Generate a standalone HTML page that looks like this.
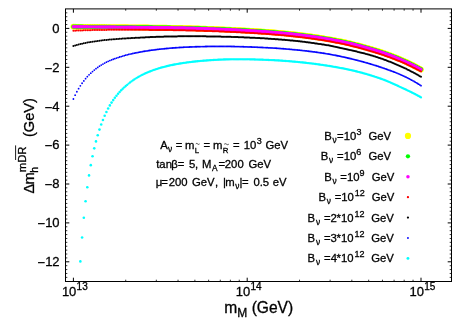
<!DOCTYPE html>
<html><head><meta charset="utf-8"><title>plot</title>
<style>html,body{margin:0;padding:0;background:#fff;}body{width:467px;height:327px;overflow:hidden;position:relative;font-family:"Liberation Sans",sans-serif;}</style></head>
<body>
<svg width="467" height="327" viewBox="0 0 467 327" style="display:block;position:absolute;left:0;top:0;will-change:transform">
<rect x="0" y="0" width="467" height="327" fill="#ffffff"/>
<g fill="#ffff00">
<circle cx="73.40" cy="26.70" r="2.85"/><circle cx="75.14" cy="26.72" r="2.85"/><circle cx="76.88" cy="26.73" r="2.85"/><circle cx="78.61" cy="26.74" r="2.85"/><circle cx="80.35" cy="26.76" r="2.85"/><circle cx="82.09" cy="26.77" r="2.85"/><circle cx="83.83" cy="26.78" r="2.85"/><circle cx="85.57" cy="26.80" r="2.85"/><circle cx="87.30" cy="26.81" r="2.85"/><circle cx="89.04" cy="26.83" r="2.85"/><circle cx="90.78" cy="26.84" r="2.85"/><circle cx="92.52" cy="26.85" r="2.85"/><circle cx="94.26" cy="26.87" r="2.85"/><circle cx="95.99" cy="26.89" r="2.85"/><circle cx="97.73" cy="26.90" r="2.85"/><circle cx="99.47" cy="26.92" r="2.85"/><circle cx="101.21" cy="26.93" r="2.85"/><circle cx="102.95" cy="26.95" r="2.85"/><circle cx="104.68" cy="26.97" r="2.85"/><circle cx="106.42" cy="26.98" r="2.85"/><circle cx="108.15" cy="27.00" r="2.85"/><circle cx="109.86" cy="27.02" r="2.85"/><circle cx="111.55" cy="27.04" r="2.85"/><circle cx="113.21" cy="27.05" r="2.85"/><circle cx="114.85" cy="27.07" r="2.85"/><circle cx="116.47" cy="27.09" r="2.85"/><circle cx="118.06" cy="27.11" r="2.85"/><circle cx="119.64" cy="27.12" r="2.85"/><circle cx="121.19" cy="27.14" r="2.85"/><circle cx="122.73" cy="27.16" r="2.85"/><circle cx="124.24" cy="27.18" r="2.85"/><circle cx="125.73" cy="27.20" r="2.85"/><circle cx="127.20" cy="27.21" r="2.85"/><circle cx="128.65" cy="27.23" r="2.85"/><circle cx="130.08" cy="27.25" r="2.85"/><circle cx="131.50" cy="27.27" r="2.85"/><circle cx="132.89" cy="27.28" r="2.85"/><circle cx="134.26" cy="27.30" r="2.85"/><circle cx="135.62" cy="27.32" r="2.85"/><circle cx="136.96" cy="27.33" r="2.85"/><circle cx="138.28" cy="27.35" r="2.85"/><circle cx="139.58" cy="27.36" r="2.85"/><circle cx="140.86" cy="27.38" r="2.85"/><circle cx="142.13" cy="27.40" r="2.85"/><circle cx="143.38" cy="27.41" r="2.85"/><circle cx="144.62" cy="27.43" r="2.85"/><circle cx="145.83" cy="27.44" r="2.85"/><circle cx="147.03" cy="27.45" r="2.85"/><circle cx="148.22" cy="27.47" r="2.85"/><circle cx="149.38" cy="27.48" r="2.85"/><circle cx="150.54" cy="27.50" r="2.85"/><circle cx="151.68" cy="27.51" r="2.85"/><circle cx="152.83" cy="27.53" r="2.85"/><circle cx="153.97" cy="27.54" r="2.85"/><circle cx="155.12" cy="27.55" r="2.85"/><circle cx="156.27" cy="27.57" r="2.85"/><circle cx="157.41" cy="27.58" r="2.85"/><circle cx="158.56" cy="27.60" r="2.85"/><circle cx="159.70" cy="27.62" r="2.85"/><circle cx="160.85" cy="27.63" r="2.85"/><circle cx="162.00" cy="27.65" r="2.85"/><circle cx="163.14" cy="27.66" r="2.85"/><circle cx="164.29" cy="27.68" r="2.85"/><circle cx="165.43" cy="27.70" r="2.85"/><circle cx="166.58" cy="27.72" r="2.85"/><circle cx="167.73" cy="27.73" r="2.85"/><circle cx="168.87" cy="27.75" r="2.85"/><circle cx="170.02" cy="27.77" r="2.85"/><circle cx="171.17" cy="27.79" r="2.85"/><circle cx="172.31" cy="27.81" r="2.85"/><circle cx="173.46" cy="27.83" r="2.85"/><circle cx="174.60" cy="27.85" r="2.85"/><circle cx="175.75" cy="27.87" r="2.85"/><circle cx="176.90" cy="27.89" r="2.85"/><circle cx="178.04" cy="27.92" r="2.85"/><circle cx="179.19" cy="27.94" r="2.85"/><circle cx="180.33" cy="27.97" r="2.85"/><circle cx="181.48" cy="27.99" r="2.85"/><circle cx="182.63" cy="28.02" r="2.85"/><circle cx="183.77" cy="28.04" r="2.85"/><circle cx="184.92" cy="28.07" r="2.85"/><circle cx="186.06" cy="28.10" r="2.85"/><circle cx="187.21" cy="28.13" r="2.85"/><circle cx="188.36" cy="28.16" r="2.85"/><circle cx="189.50" cy="28.19" r="2.85"/><circle cx="190.65" cy="28.22" r="2.85"/><circle cx="191.79" cy="28.25" r="2.85"/><circle cx="192.94" cy="28.28" r="2.85"/><circle cx="194.09" cy="28.32" r="2.85"/><circle cx="195.23" cy="28.35" r="2.85"/><circle cx="196.38" cy="28.39" r="2.85"/><circle cx="197.52" cy="28.43" r="2.85"/><circle cx="198.67" cy="28.46" r="2.85"/><circle cx="199.82" cy="28.50" r="2.85"/><circle cx="200.96" cy="28.54" r="2.85"/><circle cx="202.11" cy="28.58" r="2.85"/><circle cx="203.25" cy="28.62" r="2.85"/><circle cx="204.40" cy="28.66" r="2.85"/><circle cx="205.55" cy="28.70" r="2.85"/><circle cx="206.69" cy="28.75" r="2.85"/><circle cx="207.84" cy="28.79" r="2.85"/><circle cx="208.98" cy="28.83" r="2.85"/><circle cx="210.13" cy="28.88" r="2.85"/><circle cx="211.28" cy="28.92" r="2.85"/><circle cx="212.42" cy="28.97" r="2.85"/><circle cx="213.57" cy="29.01" r="2.85"/><circle cx="214.71" cy="29.06" r="2.85"/><circle cx="215.86" cy="29.11" r="2.85"/><circle cx="217.01" cy="29.16" r="2.85"/><circle cx="218.15" cy="29.20" r="2.85"/><circle cx="219.30" cy="29.25" r="2.85"/><circle cx="220.44" cy="29.30" r="2.85"/><circle cx="221.59" cy="29.35" r="2.85"/><circle cx="222.74" cy="29.40" r="2.85"/><circle cx="223.88" cy="29.45" r="2.85"/><circle cx="225.03" cy="29.50" r="2.85"/><circle cx="226.17" cy="29.56" r="2.85"/><circle cx="227.32" cy="29.61" r="2.85"/><circle cx="228.47" cy="29.66" r="2.85"/><circle cx="229.61" cy="29.71" r="2.85"/><circle cx="230.76" cy="29.77" r="2.85"/><circle cx="231.90" cy="29.82" r="2.85"/><circle cx="233.05" cy="29.88" r="2.85"/><circle cx="234.20" cy="29.93" r="2.85"/><circle cx="235.34" cy="29.99" r="2.85"/><circle cx="236.49" cy="30.04" r="2.85"/><circle cx="237.63" cy="30.10" r="2.85"/><circle cx="238.78" cy="30.16" r="2.85"/><circle cx="239.93" cy="30.22" r="2.85"/><circle cx="241.07" cy="30.28" r="2.85"/><circle cx="242.22" cy="30.34" r="2.85"/><circle cx="243.37" cy="30.40" r="2.85"/><circle cx="244.51" cy="30.46" r="2.85"/><circle cx="245.66" cy="30.52" r="2.85"/><circle cx="246.80" cy="30.59" r="2.85"/><circle cx="247.95" cy="30.65" r="2.85"/><circle cx="249.10" cy="30.72" r="2.85"/><circle cx="250.24" cy="30.78" r="2.85"/><circle cx="251.39" cy="30.85" r="2.85"/><circle cx="252.53" cy="30.92" r="2.85"/><circle cx="253.68" cy="30.99" r="2.85"/><circle cx="254.83" cy="31.06" r="2.85"/><circle cx="255.97" cy="31.13" r="2.85"/><circle cx="257.12" cy="31.21" r="2.85"/><circle cx="258.26" cy="31.28" r="2.85"/><circle cx="259.41" cy="31.35" r="2.85"/><circle cx="260.56" cy="31.43" r="2.85"/><circle cx="261.70" cy="31.51" r="2.85"/><circle cx="262.85" cy="31.59" r="2.85"/><circle cx="263.99" cy="31.67" r="2.85"/><circle cx="265.14" cy="31.75" r="2.85"/><circle cx="266.29" cy="31.83" r="2.85"/><circle cx="267.43" cy="31.92" r="2.85"/><circle cx="268.58" cy="32.00" r="2.85"/><circle cx="269.72" cy="32.09" r="2.85"/><circle cx="270.87" cy="32.18" r="2.85"/><circle cx="272.02" cy="32.27" r="2.85"/><circle cx="273.16" cy="32.36" r="2.85"/><circle cx="274.31" cy="32.45" r="2.85"/><circle cx="275.45" cy="32.55" r="2.85"/><circle cx="276.60" cy="32.64" r="2.85"/><circle cx="277.75" cy="32.74" r="2.85"/><circle cx="278.89" cy="32.84" r="2.85"/><circle cx="280.04" cy="32.94" r="2.85"/><circle cx="281.18" cy="33.04" r="2.85"/><circle cx="282.33" cy="33.15" r="2.85"/><circle cx="283.48" cy="33.25" r="2.85"/><circle cx="284.62" cy="33.36" r="2.85"/><circle cx="285.77" cy="33.48" r="2.85"/><circle cx="286.91" cy="33.59" r="2.85"/><circle cx="288.06" cy="33.70" r="2.85"/><circle cx="289.21" cy="33.82" r="2.85"/><circle cx="290.35" cy="33.94" r="2.85"/><circle cx="291.50" cy="34.06" r="2.85"/><circle cx="292.64" cy="34.19" r="2.85"/><circle cx="293.79" cy="34.31" r="2.85"/><circle cx="294.94" cy="34.44" r="2.85"/><circle cx="296.08" cy="34.57" r="2.85"/><circle cx="297.23" cy="34.70" r="2.85"/><circle cx="298.37" cy="34.84" r="2.85"/><circle cx="299.52" cy="34.97" r="2.85"/><circle cx="300.67" cy="35.11" r="2.85"/><circle cx="301.81" cy="35.25" r="2.85"/><circle cx="302.96" cy="35.39" r="2.85"/><circle cx="304.10" cy="35.54" r="2.85"/><circle cx="305.25" cy="35.69" r="2.85"/><circle cx="306.40" cy="35.84" r="2.85"/><circle cx="307.54" cy="35.99" r="2.85"/><circle cx="308.69" cy="36.14" r="2.85"/><circle cx="309.83" cy="36.30" r="2.85"/><circle cx="310.98" cy="36.46" r="2.85"/><circle cx="312.13" cy="36.62" r="2.85"/><circle cx="313.27" cy="36.78" r="2.85"/><circle cx="314.42" cy="36.94" r="2.85"/><circle cx="315.57" cy="37.11" r="2.85"/><circle cx="316.71" cy="37.28" r="2.85"/><circle cx="317.86" cy="37.45" r="2.85"/><circle cx="319.00" cy="37.63" r="2.85"/><circle cx="320.15" cy="37.81" r="2.85"/><circle cx="321.30" cy="37.99" r="2.85"/><circle cx="322.44" cy="38.17" r="2.85"/><circle cx="323.59" cy="38.35" r="2.85"/><circle cx="324.73" cy="38.54" r="2.85"/><circle cx="325.88" cy="38.73" r="2.85"/><circle cx="327.03" cy="38.92" r="2.85"/><circle cx="328.17" cy="39.12" r="2.85"/><circle cx="329.32" cy="39.32" r="2.85"/><circle cx="330.46" cy="39.52" r="2.85"/><circle cx="331.61" cy="39.72" r="2.85"/><circle cx="332.76" cy="39.93" r="2.85"/><circle cx="333.90" cy="40.14" r="2.85"/><circle cx="335.05" cy="40.35" r="2.85"/><circle cx="336.19" cy="40.57" r="2.85"/><circle cx="337.34" cy="40.79" r="2.85"/><circle cx="338.49" cy="41.01" r="2.85"/><circle cx="339.63" cy="41.24" r="2.85"/><circle cx="340.78" cy="41.47" r="2.85"/><circle cx="341.92" cy="41.71" r="2.85"/><circle cx="343.07" cy="41.94" r="2.85"/><circle cx="344.22" cy="42.18" r="2.85"/><circle cx="345.36" cy="42.43" r="2.85"/><circle cx="346.51" cy="42.68" r="2.85"/><circle cx="347.65" cy="42.93" r="2.85"/><circle cx="348.80" cy="43.18" r="2.85"/><circle cx="349.95" cy="43.44" r="2.85"/><circle cx="351.09" cy="43.71" r="2.85"/><circle cx="352.24" cy="43.98" r="2.85"/><circle cx="353.38" cy="44.25" r="2.85"/><circle cx="354.53" cy="44.52" r="2.85"/><circle cx="355.68" cy="44.80" r="2.85"/><circle cx="356.82" cy="45.09" r="2.85"/><circle cx="357.97" cy="45.38" r="2.85"/><circle cx="359.11" cy="45.68" r="2.85"/><circle cx="360.26" cy="45.98" r="2.85"/><circle cx="361.41" cy="46.29" r="2.85"/><circle cx="362.55" cy="46.60" r="2.85"/><circle cx="363.70" cy="46.91" r="2.85"/><circle cx="364.84" cy="47.23" r="2.85"/><circle cx="365.99" cy="47.56" r="2.85"/><circle cx="367.14" cy="47.88" r="2.85"/><circle cx="368.28" cy="48.21" r="2.85"/><circle cx="369.43" cy="48.54" r="2.85"/><circle cx="370.57" cy="48.87" r="2.85"/><circle cx="371.72" cy="49.21" r="2.85"/><circle cx="372.87" cy="49.54" r="2.85"/><circle cx="374.01" cy="49.89" r="2.85"/><circle cx="375.16" cy="50.23" r="2.85"/><circle cx="376.30" cy="50.58" r="2.85"/><circle cx="377.45" cy="50.94" r="2.85"/><circle cx="378.60" cy="51.30" r="2.85"/><circle cx="379.74" cy="51.67" r="2.85"/><circle cx="380.89" cy="52.04" r="2.85"/><circle cx="382.03" cy="52.42" r="2.85"/><circle cx="383.18" cy="52.81" r="2.85"/><circle cx="384.33" cy="53.20" r="2.85"/><circle cx="385.47" cy="53.59" r="2.85"/><circle cx="386.62" cy="53.99" r="2.85"/><circle cx="387.77" cy="54.40" r="2.85"/><circle cx="388.91" cy="54.82" r="2.85"/><circle cx="390.06" cy="55.24" r="2.85"/><circle cx="391.20" cy="55.67" r="2.85"/><circle cx="392.35" cy="56.10" r="2.85"/><circle cx="393.50" cy="56.54" r="2.85"/><circle cx="394.64" cy="56.99" r="2.85"/><circle cx="395.79" cy="57.45" r="2.85"/><circle cx="396.93" cy="57.91" r="2.85"/><circle cx="398.08" cy="58.38" r="2.85"/><circle cx="399.23" cy="58.86" r="2.85"/><circle cx="400.37" cy="59.35" r="2.85"/><circle cx="401.52" cy="59.84" r="2.85"/><circle cx="402.66" cy="60.34" r="2.85"/><circle cx="403.81" cy="60.85" r="2.85"/><circle cx="404.96" cy="61.37" r="2.85"/><circle cx="406.10" cy="61.89" r="2.85"/><circle cx="407.25" cy="62.43" r="2.85"/><circle cx="408.39" cy="62.97" r="2.85"/><circle cx="409.54" cy="63.52" r="2.85"/><circle cx="410.69" cy="64.08" r="2.85"/><circle cx="411.83" cy="64.64" r="2.85"/><circle cx="412.98" cy="65.22" r="2.85"/><circle cx="414.12" cy="65.80" r="2.85"/><circle cx="415.27" cy="66.40" r="2.85"/><circle cx="416.42" cy="67.00" r="2.85"/><circle cx="417.56" cy="67.61" r="2.85"/><circle cx="418.71" cy="68.24" r="2.85"/><circle cx="419.85" cy="68.87" r="2.85"/><circle cx="421.00" cy="69.51" r="2.85"/>
</g>
<g fill="#00ff00">
<circle cx="73.40" cy="26.70" r="2.15"/><circle cx="75.14" cy="26.72" r="2.15"/><circle cx="76.88" cy="26.73" r="2.15"/><circle cx="78.61" cy="26.74" r="2.15"/><circle cx="80.35" cy="26.76" r="2.15"/><circle cx="82.09" cy="26.77" r="2.15"/><circle cx="83.83" cy="26.78" r="2.15"/><circle cx="85.57" cy="26.80" r="2.15"/><circle cx="87.30" cy="26.81" r="2.15"/><circle cx="89.04" cy="26.83" r="2.15"/><circle cx="90.78" cy="26.84" r="2.15"/><circle cx="92.52" cy="26.85" r="2.15"/><circle cx="94.26" cy="26.87" r="2.15"/><circle cx="95.99" cy="26.89" r="2.15"/><circle cx="97.73" cy="26.90" r="2.15"/><circle cx="99.47" cy="26.92" r="2.15"/><circle cx="101.21" cy="26.93" r="2.15"/><circle cx="102.95" cy="26.95" r="2.15"/><circle cx="104.68" cy="26.97" r="2.15"/><circle cx="106.42" cy="26.98" r="2.15"/><circle cx="108.15" cy="27.00" r="2.15"/><circle cx="109.86" cy="27.02" r="2.15"/><circle cx="111.55" cy="27.04" r="2.15"/><circle cx="113.21" cy="27.05" r="2.15"/><circle cx="114.85" cy="27.07" r="2.15"/><circle cx="116.47" cy="27.09" r="2.15"/><circle cx="118.06" cy="27.11" r="2.15"/><circle cx="119.64" cy="27.12" r="2.15"/><circle cx="121.19" cy="27.14" r="2.15"/><circle cx="122.73" cy="27.16" r="2.15"/><circle cx="124.24" cy="27.18" r="2.15"/><circle cx="125.73" cy="27.20" r="2.15"/><circle cx="127.20" cy="27.21" r="2.15"/><circle cx="128.65" cy="27.23" r="2.15"/><circle cx="130.08" cy="27.25" r="2.15"/><circle cx="131.50" cy="27.27" r="2.15"/><circle cx="132.89" cy="27.28" r="2.15"/><circle cx="134.26" cy="27.30" r="2.15"/><circle cx="135.62" cy="27.32" r="2.15"/><circle cx="136.96" cy="27.33" r="2.15"/><circle cx="138.28" cy="27.35" r="2.15"/><circle cx="139.58" cy="27.36" r="2.15"/><circle cx="140.86" cy="27.38" r="2.15"/><circle cx="142.13" cy="27.40" r="2.15"/><circle cx="143.38" cy="27.41" r="2.15"/><circle cx="144.62" cy="27.43" r="2.15"/><circle cx="145.83" cy="27.44" r="2.15"/><circle cx="147.03" cy="27.45" r="2.15"/><circle cx="148.22" cy="27.47" r="2.15"/><circle cx="149.38" cy="27.48" r="2.15"/><circle cx="150.54" cy="27.50" r="2.15"/><circle cx="151.68" cy="27.51" r="2.15"/><circle cx="152.83" cy="27.53" r="2.15"/><circle cx="153.97" cy="27.54" r="2.15"/><circle cx="155.12" cy="27.55" r="2.15"/><circle cx="156.27" cy="27.57" r="2.15"/><circle cx="157.41" cy="27.58" r="2.15"/><circle cx="158.56" cy="27.60" r="2.15"/><circle cx="159.70" cy="27.62" r="2.15"/><circle cx="160.85" cy="27.63" r="2.15"/><circle cx="162.00" cy="27.65" r="2.15"/><circle cx="163.14" cy="27.66" r="2.15"/><circle cx="164.29" cy="27.68" r="2.15"/><circle cx="165.43" cy="27.70" r="2.15"/><circle cx="166.58" cy="27.72" r="2.15"/><circle cx="167.73" cy="27.73" r="2.15"/><circle cx="168.87" cy="27.75" r="2.15"/><circle cx="170.02" cy="27.77" r="2.15"/><circle cx="171.17" cy="27.79" r="2.15"/><circle cx="172.31" cy="27.81" r="2.15"/><circle cx="173.46" cy="27.83" r="2.15"/><circle cx="174.60" cy="27.85" r="2.15"/><circle cx="175.75" cy="27.87" r="2.15"/><circle cx="176.90" cy="27.89" r="2.15"/><circle cx="178.04" cy="27.92" r="2.15"/><circle cx="179.19" cy="27.94" r="2.15"/><circle cx="180.33" cy="27.97" r="2.15"/><circle cx="181.48" cy="27.99" r="2.15"/><circle cx="182.63" cy="28.02" r="2.15"/><circle cx="183.77" cy="28.04" r="2.15"/><circle cx="184.92" cy="28.07" r="2.15"/><circle cx="186.06" cy="28.10" r="2.15"/><circle cx="187.21" cy="28.13" r="2.15"/><circle cx="188.36" cy="28.16" r="2.15"/><circle cx="189.50" cy="28.19" r="2.15"/><circle cx="190.65" cy="28.22" r="2.15"/><circle cx="191.79" cy="28.25" r="2.15"/><circle cx="192.94" cy="28.28" r="2.15"/><circle cx="194.09" cy="28.32" r="2.15"/><circle cx="195.23" cy="28.35" r="2.15"/><circle cx="196.38" cy="28.39" r="2.15"/><circle cx="197.52" cy="28.43" r="2.15"/><circle cx="198.67" cy="28.46" r="2.15"/><circle cx="199.82" cy="28.50" r="2.15"/><circle cx="200.96" cy="28.54" r="2.15"/><circle cx="202.11" cy="28.58" r="2.15"/><circle cx="203.25" cy="28.62" r="2.15"/><circle cx="204.40" cy="28.66" r="2.15"/><circle cx="205.55" cy="28.70" r="2.15"/><circle cx="206.69" cy="28.75" r="2.15"/><circle cx="207.84" cy="28.79" r="2.15"/><circle cx="208.98" cy="28.83" r="2.15"/><circle cx="210.13" cy="28.88" r="2.15"/><circle cx="211.28" cy="28.92" r="2.15"/><circle cx="212.42" cy="28.97" r="2.15"/><circle cx="213.57" cy="29.01" r="2.15"/><circle cx="214.71" cy="29.06" r="2.15"/><circle cx="215.86" cy="29.11" r="2.15"/><circle cx="217.01" cy="29.16" r="2.15"/><circle cx="218.15" cy="29.20" r="2.15"/><circle cx="219.30" cy="29.25" r="2.15"/><circle cx="220.44" cy="29.30" r="2.15"/><circle cx="221.59" cy="29.35" r="2.15"/><circle cx="222.74" cy="29.40" r="2.15"/><circle cx="223.88" cy="29.45" r="2.15"/><circle cx="225.03" cy="29.50" r="2.15"/><circle cx="226.17" cy="29.56" r="2.15"/><circle cx="227.32" cy="29.61" r="2.15"/><circle cx="228.47" cy="29.66" r="2.15"/><circle cx="229.61" cy="29.71" r="2.15"/><circle cx="230.76" cy="29.77" r="2.15"/><circle cx="231.90" cy="29.82" r="2.15"/><circle cx="233.05" cy="29.88" r="2.15"/><circle cx="234.20" cy="29.93" r="2.15"/><circle cx="235.34" cy="29.99" r="2.15"/><circle cx="236.49" cy="30.04" r="2.15"/><circle cx="237.63" cy="30.10" r="2.15"/><circle cx="238.78" cy="30.16" r="2.15"/><circle cx="239.93" cy="30.22" r="2.15"/><circle cx="241.07" cy="30.28" r="2.15"/><circle cx="242.22" cy="30.34" r="2.15"/><circle cx="243.37" cy="30.40" r="2.15"/><circle cx="244.51" cy="30.46" r="2.15"/><circle cx="245.66" cy="30.52" r="2.15"/><circle cx="246.80" cy="30.59" r="2.15"/><circle cx="247.95" cy="30.65" r="2.15"/><circle cx="249.10" cy="30.72" r="2.15"/><circle cx="250.24" cy="30.78" r="2.15"/><circle cx="251.39" cy="30.85" r="2.15"/><circle cx="252.53" cy="30.92" r="2.15"/><circle cx="253.68" cy="30.99" r="2.15"/><circle cx="254.83" cy="31.06" r="2.15"/><circle cx="255.97" cy="31.13" r="2.15"/><circle cx="257.12" cy="31.21" r="2.15"/><circle cx="258.26" cy="31.28" r="2.15"/><circle cx="259.41" cy="31.35" r="2.15"/><circle cx="260.56" cy="31.43" r="2.15"/><circle cx="261.70" cy="31.51" r="2.15"/><circle cx="262.85" cy="31.59" r="2.15"/><circle cx="263.99" cy="31.67" r="2.15"/><circle cx="265.14" cy="31.75" r="2.15"/><circle cx="266.29" cy="31.83" r="2.15"/><circle cx="267.43" cy="31.92" r="2.15"/><circle cx="268.58" cy="32.00" r="2.15"/><circle cx="269.72" cy="32.09" r="2.15"/><circle cx="270.87" cy="32.18" r="2.15"/><circle cx="272.02" cy="32.27" r="2.15"/><circle cx="273.16" cy="32.36" r="2.15"/><circle cx="274.31" cy="32.45" r="2.15"/><circle cx="275.45" cy="32.55" r="2.15"/><circle cx="276.60" cy="32.64" r="2.15"/><circle cx="277.75" cy="32.74" r="2.15"/><circle cx="278.89" cy="32.84" r="2.15"/><circle cx="280.04" cy="32.94" r="2.15"/><circle cx="281.18" cy="33.04" r="2.15"/><circle cx="282.33" cy="33.15" r="2.15"/><circle cx="283.48" cy="33.25" r="2.15"/><circle cx="284.62" cy="33.36" r="2.15"/><circle cx="285.77" cy="33.48" r="2.15"/><circle cx="286.91" cy="33.59" r="2.15"/><circle cx="288.06" cy="33.70" r="2.15"/><circle cx="289.21" cy="33.82" r="2.15"/><circle cx="290.35" cy="33.94" r="2.15"/><circle cx="291.50" cy="34.06" r="2.15"/><circle cx="292.64" cy="34.19" r="2.15"/><circle cx="293.79" cy="34.31" r="2.15"/><circle cx="294.94" cy="34.44" r="2.15"/><circle cx="296.08" cy="34.57" r="2.15"/><circle cx="297.23" cy="34.70" r="2.15"/><circle cx="298.37" cy="34.84" r="2.15"/><circle cx="299.52" cy="34.97" r="2.15"/><circle cx="300.67" cy="35.11" r="2.15"/><circle cx="301.81" cy="35.25" r="2.15"/><circle cx="302.96" cy="35.39" r="2.15"/><circle cx="304.10" cy="35.54" r="2.15"/><circle cx="305.25" cy="35.69" r="2.15"/><circle cx="306.40" cy="35.84" r="2.15"/><circle cx="307.54" cy="35.99" r="2.15"/><circle cx="308.69" cy="36.14" r="2.15"/><circle cx="309.83" cy="36.30" r="2.15"/><circle cx="310.98" cy="36.46" r="2.15"/><circle cx="312.13" cy="36.62" r="2.15"/><circle cx="313.27" cy="36.78" r="2.15"/><circle cx="314.42" cy="36.94" r="2.15"/><circle cx="315.57" cy="37.11" r="2.15"/><circle cx="316.71" cy="37.28" r="2.15"/><circle cx="317.86" cy="37.45" r="2.15"/><circle cx="319.00" cy="37.63" r="2.15"/><circle cx="320.15" cy="37.81" r="2.15"/><circle cx="321.30" cy="37.99" r="2.15"/><circle cx="322.44" cy="38.17" r="2.15"/><circle cx="323.59" cy="38.35" r="2.15"/><circle cx="324.73" cy="38.54" r="2.15"/><circle cx="325.88" cy="38.73" r="2.15"/><circle cx="327.03" cy="38.92" r="2.15"/><circle cx="328.17" cy="39.12" r="2.15"/><circle cx="329.32" cy="39.32" r="2.15"/><circle cx="330.46" cy="39.52" r="2.15"/><circle cx="331.61" cy="39.72" r="2.15"/><circle cx="332.76" cy="39.93" r="2.15"/><circle cx="333.90" cy="40.14" r="2.15"/><circle cx="335.05" cy="40.35" r="2.15"/><circle cx="336.19" cy="40.57" r="2.15"/><circle cx="337.34" cy="40.79" r="2.15"/><circle cx="338.49" cy="41.01" r="2.15"/><circle cx="339.63" cy="41.24" r="2.15"/><circle cx="340.78" cy="41.47" r="2.15"/><circle cx="341.92" cy="41.71" r="2.15"/><circle cx="343.07" cy="41.94" r="2.15"/><circle cx="344.22" cy="42.18" r="2.15"/><circle cx="345.36" cy="42.43" r="2.15"/><circle cx="346.51" cy="42.68" r="2.15"/><circle cx="347.65" cy="42.93" r="2.15"/><circle cx="348.80" cy="43.18" r="2.15"/><circle cx="349.95" cy="43.44" r="2.15"/><circle cx="351.09" cy="43.71" r="2.15"/><circle cx="352.24" cy="43.98" r="2.15"/><circle cx="353.38" cy="44.25" r="2.15"/><circle cx="354.53" cy="44.52" r="2.15"/><circle cx="355.68" cy="44.80" r="2.15"/><circle cx="356.82" cy="45.09" r="2.15"/><circle cx="357.97" cy="45.38" r="2.15"/><circle cx="359.11" cy="45.68" r="2.15"/><circle cx="360.26" cy="45.98" r="2.15"/><circle cx="361.41" cy="46.29" r="2.15"/><circle cx="362.55" cy="46.60" r="2.15"/><circle cx="363.70" cy="46.91" r="2.15"/><circle cx="364.84" cy="47.23" r="2.15"/><circle cx="365.99" cy="47.56" r="2.15"/><circle cx="367.14" cy="47.88" r="2.15"/><circle cx="368.28" cy="48.21" r="2.15"/><circle cx="369.43" cy="48.54" r="2.15"/><circle cx="370.57" cy="48.87" r="2.15"/><circle cx="371.72" cy="49.21" r="2.15"/><circle cx="372.87" cy="49.54" r="2.15"/><circle cx="374.01" cy="49.89" r="2.15"/><circle cx="375.16" cy="50.23" r="2.15"/><circle cx="376.30" cy="50.58" r="2.15"/><circle cx="377.45" cy="50.94" r="2.15"/><circle cx="378.60" cy="51.30" r="2.15"/><circle cx="379.74" cy="51.67" r="2.15"/><circle cx="380.89" cy="52.04" r="2.15"/><circle cx="382.03" cy="52.42" r="2.15"/><circle cx="383.18" cy="52.81" r="2.15"/><circle cx="384.33" cy="53.20" r="2.15"/><circle cx="385.47" cy="53.59" r="2.15"/><circle cx="386.62" cy="53.99" r="2.15"/><circle cx="387.77" cy="54.40" r="2.15"/><circle cx="388.91" cy="54.82" r="2.15"/><circle cx="390.06" cy="55.24" r="2.15"/><circle cx="391.20" cy="55.67" r="2.15"/><circle cx="392.35" cy="56.10" r="2.15"/><circle cx="393.50" cy="56.54" r="2.15"/><circle cx="394.64" cy="56.99" r="2.15"/><circle cx="395.79" cy="57.45" r="2.15"/><circle cx="396.93" cy="57.91" r="2.15"/><circle cx="398.08" cy="58.38" r="2.15"/><circle cx="399.23" cy="58.86" r="2.15"/><circle cx="400.37" cy="59.35" r="2.15"/><circle cx="401.52" cy="59.84" r="2.15"/><circle cx="402.66" cy="60.34" r="2.15"/><circle cx="403.81" cy="60.85" r="2.15"/><circle cx="404.96" cy="61.37" r="2.15"/><circle cx="406.10" cy="61.89" r="2.15"/><circle cx="407.25" cy="62.43" r="2.15"/><circle cx="408.39" cy="62.97" r="2.15"/><circle cx="409.54" cy="63.52" r="2.15"/><circle cx="410.69" cy="64.08" r="2.15"/><circle cx="411.83" cy="64.64" r="2.15"/><circle cx="412.98" cy="65.22" r="2.15"/><circle cx="414.12" cy="65.80" r="2.15"/><circle cx="415.27" cy="66.40" r="2.15"/><circle cx="416.42" cy="67.00" r="2.15"/><circle cx="417.56" cy="67.61" r="2.15"/><circle cx="418.71" cy="68.24" r="2.15"/><circle cx="419.85" cy="68.87" r="2.15"/><circle cx="421.00" cy="69.51" r="2.15"/>
</g>
<g fill="#ff00ff">
<circle cx="73.40" cy="26.70" r="1.70"/><circle cx="75.14" cy="26.72" r="1.70"/><circle cx="76.88" cy="26.73" r="1.70"/><circle cx="78.61" cy="26.74" r="1.70"/><circle cx="80.35" cy="26.76" r="1.70"/><circle cx="82.09" cy="26.77" r="1.70"/><circle cx="83.83" cy="26.78" r="1.70"/><circle cx="85.57" cy="26.80" r="1.70"/><circle cx="87.30" cy="26.81" r="1.70"/><circle cx="89.04" cy="26.83" r="1.70"/><circle cx="90.78" cy="26.84" r="1.70"/><circle cx="92.52" cy="26.85" r="1.70"/><circle cx="94.26" cy="26.87" r="1.70"/><circle cx="95.99" cy="26.89" r="1.70"/><circle cx="97.73" cy="26.90" r="1.70"/><circle cx="99.47" cy="26.92" r="1.70"/><circle cx="101.21" cy="26.93" r="1.70"/><circle cx="102.95" cy="26.95" r="1.70"/><circle cx="104.68" cy="26.97" r="1.70"/><circle cx="106.42" cy="26.98" r="1.70"/><circle cx="108.15" cy="27.00" r="1.70"/><circle cx="109.86" cy="27.02" r="1.70"/><circle cx="111.55" cy="27.04" r="1.70"/><circle cx="113.21" cy="27.05" r="1.70"/><circle cx="114.85" cy="27.07" r="1.70"/><circle cx="116.47" cy="27.09" r="1.70"/><circle cx="118.06" cy="27.11" r="1.70"/><circle cx="119.64" cy="27.12" r="1.70"/><circle cx="121.19" cy="27.14" r="1.70"/><circle cx="122.73" cy="27.16" r="1.70"/><circle cx="124.24" cy="27.18" r="1.70"/><circle cx="125.73" cy="27.20" r="1.70"/><circle cx="127.20" cy="27.21" r="1.70"/><circle cx="128.65" cy="27.23" r="1.70"/><circle cx="130.08" cy="27.25" r="1.70"/><circle cx="131.50" cy="27.27" r="1.70"/><circle cx="132.89" cy="27.28" r="1.70"/><circle cx="134.26" cy="27.30" r="1.70"/><circle cx="135.62" cy="27.32" r="1.70"/><circle cx="136.96" cy="27.33" r="1.70"/><circle cx="138.28" cy="27.35" r="1.70"/><circle cx="139.58" cy="27.36" r="1.70"/><circle cx="140.86" cy="27.38" r="1.70"/><circle cx="142.13" cy="27.40" r="1.70"/><circle cx="143.38" cy="27.41" r="1.70"/><circle cx="144.62" cy="27.43" r="1.70"/><circle cx="145.83" cy="27.44" r="1.70"/><circle cx="147.03" cy="27.45" r="1.70"/><circle cx="148.22" cy="27.47" r="1.70"/><circle cx="149.38" cy="27.48" r="1.70"/><circle cx="150.54" cy="27.50" r="1.70"/><circle cx="151.68" cy="27.51" r="1.70"/><circle cx="152.83" cy="27.53" r="1.70"/><circle cx="153.97" cy="27.54" r="1.70"/><circle cx="155.12" cy="27.55" r="1.70"/><circle cx="156.27" cy="27.57" r="1.70"/><circle cx="157.41" cy="27.58" r="1.70"/><circle cx="158.56" cy="27.60" r="1.70"/><circle cx="159.70" cy="27.62" r="1.70"/><circle cx="160.85" cy="27.63" r="1.70"/><circle cx="162.00" cy="27.65" r="1.70"/><circle cx="163.14" cy="27.66" r="1.70"/><circle cx="164.29" cy="27.68" r="1.70"/><circle cx="165.43" cy="27.70" r="1.70"/><circle cx="166.58" cy="27.72" r="1.70"/><circle cx="167.73" cy="27.73" r="1.70"/><circle cx="168.87" cy="27.75" r="1.70"/><circle cx="170.02" cy="27.77" r="1.70"/><circle cx="171.17" cy="27.79" r="1.70"/><circle cx="172.31" cy="27.81" r="1.70"/><circle cx="173.46" cy="27.83" r="1.70"/><circle cx="174.60" cy="27.85" r="1.70"/><circle cx="175.75" cy="27.87" r="1.70"/><circle cx="176.90" cy="27.89" r="1.70"/><circle cx="178.04" cy="27.92" r="1.70"/><circle cx="179.19" cy="27.94" r="1.70"/><circle cx="180.33" cy="27.97" r="1.70"/><circle cx="181.48" cy="27.99" r="1.70"/><circle cx="182.63" cy="28.02" r="1.70"/><circle cx="183.77" cy="28.04" r="1.70"/><circle cx="184.92" cy="28.07" r="1.70"/><circle cx="186.06" cy="28.10" r="1.70"/><circle cx="187.21" cy="28.13" r="1.70"/><circle cx="188.36" cy="28.16" r="1.70"/><circle cx="189.50" cy="28.19" r="1.70"/><circle cx="190.65" cy="28.22" r="1.70"/><circle cx="191.79" cy="28.25" r="1.70"/><circle cx="192.94" cy="28.28" r="1.70"/><circle cx="194.09" cy="28.32" r="1.70"/><circle cx="195.23" cy="28.35" r="1.70"/><circle cx="196.38" cy="28.39" r="1.70"/><circle cx="197.52" cy="28.43" r="1.70"/><circle cx="198.67" cy="28.46" r="1.70"/><circle cx="199.82" cy="28.50" r="1.70"/><circle cx="200.96" cy="28.54" r="1.70"/><circle cx="202.11" cy="28.58" r="1.70"/><circle cx="203.25" cy="28.62" r="1.70"/><circle cx="204.40" cy="28.66" r="1.70"/><circle cx="205.55" cy="28.70" r="1.70"/><circle cx="206.69" cy="28.75" r="1.70"/><circle cx="207.84" cy="28.79" r="1.70"/><circle cx="208.98" cy="28.83" r="1.70"/><circle cx="210.13" cy="28.88" r="1.70"/><circle cx="211.28" cy="28.92" r="1.70"/><circle cx="212.42" cy="28.97" r="1.70"/><circle cx="213.57" cy="29.01" r="1.70"/><circle cx="214.71" cy="29.06" r="1.70"/><circle cx="215.86" cy="29.11" r="1.70"/><circle cx="217.01" cy="29.16" r="1.70"/><circle cx="218.15" cy="29.20" r="1.70"/><circle cx="219.30" cy="29.25" r="1.70"/><circle cx="220.44" cy="29.30" r="1.70"/><circle cx="221.59" cy="29.35" r="1.70"/><circle cx="222.74" cy="29.40" r="1.70"/><circle cx="223.88" cy="29.45" r="1.70"/><circle cx="225.03" cy="29.50" r="1.70"/><circle cx="226.17" cy="29.56" r="1.70"/><circle cx="227.32" cy="29.61" r="1.70"/><circle cx="228.47" cy="29.66" r="1.70"/><circle cx="229.61" cy="29.71" r="1.70"/><circle cx="230.76" cy="29.77" r="1.70"/><circle cx="231.90" cy="29.82" r="1.70"/><circle cx="233.05" cy="29.88" r="1.70"/><circle cx="234.20" cy="29.93" r="1.70"/><circle cx="235.34" cy="29.99" r="1.70"/><circle cx="236.49" cy="30.04" r="1.70"/><circle cx="237.63" cy="30.10" r="1.70"/><circle cx="238.78" cy="30.16" r="1.70"/><circle cx="239.93" cy="30.22" r="1.70"/><circle cx="241.07" cy="30.28" r="1.70"/><circle cx="242.22" cy="30.34" r="1.70"/><circle cx="243.37" cy="30.40" r="1.70"/><circle cx="244.51" cy="30.46" r="1.70"/><circle cx="245.66" cy="30.52" r="1.70"/><circle cx="246.80" cy="30.59" r="1.70"/><circle cx="247.95" cy="30.65" r="1.70"/><circle cx="249.10" cy="30.72" r="1.70"/><circle cx="250.24" cy="30.78" r="1.70"/><circle cx="251.39" cy="30.85" r="1.70"/><circle cx="252.53" cy="30.92" r="1.70"/><circle cx="253.68" cy="30.99" r="1.70"/><circle cx="254.83" cy="31.06" r="1.70"/><circle cx="255.97" cy="31.13" r="1.70"/><circle cx="257.12" cy="31.21" r="1.70"/><circle cx="258.26" cy="31.28" r="1.70"/><circle cx="259.41" cy="31.35" r="1.70"/><circle cx="260.56" cy="31.43" r="1.70"/><circle cx="261.70" cy="31.51" r="1.70"/><circle cx="262.85" cy="31.59" r="1.70"/><circle cx="263.99" cy="31.67" r="1.70"/><circle cx="265.14" cy="31.75" r="1.70"/><circle cx="266.29" cy="31.83" r="1.70"/><circle cx="267.43" cy="31.92" r="1.70"/><circle cx="268.58" cy="32.00" r="1.70"/><circle cx="269.72" cy="32.09" r="1.70"/><circle cx="270.87" cy="32.18" r="1.70"/><circle cx="272.02" cy="32.27" r="1.70"/><circle cx="273.16" cy="32.36" r="1.70"/><circle cx="274.31" cy="32.45" r="1.70"/><circle cx="275.45" cy="32.55" r="1.70"/><circle cx="276.60" cy="32.64" r="1.70"/><circle cx="277.75" cy="32.74" r="1.70"/><circle cx="278.89" cy="32.84" r="1.70"/><circle cx="280.04" cy="32.94" r="1.70"/><circle cx="281.18" cy="33.04" r="1.70"/><circle cx="282.33" cy="33.15" r="1.70"/><circle cx="283.48" cy="33.25" r="1.70"/><circle cx="284.62" cy="33.36" r="1.70"/><circle cx="285.77" cy="33.48" r="1.70"/><circle cx="286.91" cy="33.59" r="1.70"/><circle cx="288.06" cy="33.70" r="1.70"/><circle cx="289.21" cy="33.82" r="1.70"/><circle cx="290.35" cy="33.94" r="1.70"/><circle cx="291.50" cy="34.06" r="1.70"/><circle cx="292.64" cy="34.19" r="1.70"/><circle cx="293.79" cy="34.31" r="1.70"/><circle cx="294.94" cy="34.44" r="1.70"/><circle cx="296.08" cy="34.57" r="1.70"/><circle cx="297.23" cy="34.70" r="1.70"/><circle cx="298.37" cy="34.84" r="1.70"/><circle cx="299.52" cy="34.97" r="1.70"/><circle cx="300.67" cy="35.11" r="1.70"/><circle cx="301.81" cy="35.25" r="1.70"/><circle cx="302.96" cy="35.39" r="1.70"/><circle cx="304.10" cy="35.54" r="1.70"/><circle cx="305.25" cy="35.69" r="1.70"/><circle cx="306.40" cy="35.84" r="1.70"/><circle cx="307.54" cy="35.99" r="1.70"/><circle cx="308.69" cy="36.14" r="1.70"/><circle cx="309.83" cy="36.30" r="1.70"/><circle cx="310.98" cy="36.46" r="1.70"/><circle cx="312.13" cy="36.62" r="1.70"/><circle cx="313.27" cy="36.78" r="1.70"/><circle cx="314.42" cy="36.94" r="1.70"/><circle cx="315.57" cy="37.11" r="1.70"/><circle cx="316.71" cy="37.28" r="1.70"/><circle cx="317.86" cy="37.45" r="1.70"/><circle cx="319.00" cy="37.63" r="1.70"/><circle cx="320.15" cy="37.81" r="1.70"/><circle cx="321.30" cy="37.99" r="1.70"/><circle cx="322.44" cy="38.17" r="1.70"/><circle cx="323.59" cy="38.35" r="1.70"/><circle cx="324.73" cy="38.54" r="1.70"/><circle cx="325.88" cy="38.73" r="1.70"/><circle cx="327.03" cy="38.92" r="1.70"/><circle cx="328.17" cy="39.12" r="1.70"/><circle cx="329.32" cy="39.32" r="1.70"/><circle cx="330.46" cy="39.52" r="1.70"/><circle cx="331.61" cy="39.72" r="1.70"/><circle cx="332.76" cy="39.93" r="1.70"/><circle cx="333.90" cy="40.14" r="1.70"/><circle cx="335.05" cy="40.35" r="1.70"/><circle cx="336.19" cy="40.57" r="1.70"/><circle cx="337.34" cy="40.79" r="1.70"/><circle cx="338.49" cy="41.01" r="1.70"/><circle cx="339.63" cy="41.24" r="1.70"/><circle cx="340.78" cy="41.47" r="1.70"/><circle cx="341.92" cy="41.71" r="1.70"/><circle cx="343.07" cy="41.94" r="1.70"/><circle cx="344.22" cy="42.18" r="1.70"/><circle cx="345.36" cy="42.43" r="1.70"/><circle cx="346.51" cy="42.68" r="1.70"/><circle cx="347.65" cy="42.93" r="1.70"/><circle cx="348.80" cy="43.18" r="1.70"/><circle cx="349.95" cy="43.44" r="1.70"/><circle cx="351.09" cy="43.71" r="1.70"/><circle cx="352.24" cy="43.98" r="1.70"/><circle cx="353.38" cy="44.25" r="1.70"/><circle cx="354.53" cy="44.52" r="1.70"/><circle cx="355.68" cy="44.80" r="1.70"/><circle cx="356.82" cy="45.09" r="1.70"/><circle cx="357.97" cy="45.38" r="1.70"/><circle cx="359.11" cy="45.68" r="1.70"/><circle cx="360.26" cy="45.98" r="1.70"/><circle cx="361.41" cy="46.29" r="1.70"/><circle cx="362.55" cy="46.60" r="1.70"/><circle cx="363.70" cy="46.91" r="1.70"/><circle cx="364.84" cy="47.23" r="1.70"/><circle cx="365.99" cy="47.56" r="1.70"/><circle cx="367.14" cy="47.88" r="1.70"/><circle cx="368.28" cy="48.21" r="1.70"/><circle cx="369.43" cy="48.54" r="1.70"/><circle cx="370.57" cy="48.87" r="1.70"/><circle cx="371.72" cy="49.21" r="1.70"/><circle cx="372.87" cy="49.54" r="1.70"/><circle cx="374.01" cy="49.89" r="1.70"/><circle cx="375.16" cy="50.23" r="1.70"/><circle cx="376.30" cy="50.58" r="1.70"/><circle cx="377.45" cy="50.94" r="1.70"/><circle cx="378.60" cy="51.30" r="1.70"/><circle cx="379.74" cy="51.67" r="1.70"/><circle cx="380.89" cy="52.04" r="1.70"/><circle cx="382.03" cy="52.42" r="1.70"/><circle cx="383.18" cy="52.81" r="1.70"/><circle cx="384.33" cy="53.20" r="1.70"/><circle cx="385.47" cy="53.59" r="1.70"/><circle cx="386.62" cy="53.99" r="1.70"/><circle cx="387.77" cy="54.40" r="1.70"/><circle cx="388.91" cy="54.82" r="1.70"/><circle cx="390.06" cy="55.24" r="1.70"/><circle cx="391.20" cy="55.67" r="1.70"/><circle cx="392.35" cy="56.10" r="1.70"/><circle cx="393.50" cy="56.54" r="1.70"/><circle cx="394.64" cy="56.99" r="1.70"/><circle cx="395.79" cy="57.45" r="1.70"/><circle cx="396.93" cy="57.91" r="1.70"/><circle cx="398.08" cy="58.38" r="1.70"/><circle cx="399.23" cy="58.86" r="1.70"/><circle cx="400.37" cy="59.35" r="1.70"/><circle cx="401.52" cy="59.84" r="1.70"/><circle cx="402.66" cy="60.34" r="1.70"/><circle cx="403.81" cy="60.85" r="1.70"/><circle cx="404.96" cy="61.37" r="1.70"/><circle cx="406.10" cy="61.89" r="1.70"/><circle cx="407.25" cy="62.43" r="1.70"/><circle cx="408.39" cy="62.97" r="1.70"/><circle cx="409.54" cy="63.52" r="1.70"/><circle cx="410.69" cy="64.08" r="1.70"/><circle cx="411.83" cy="64.64" r="1.70"/><circle cx="412.98" cy="65.22" r="1.70"/><circle cx="414.12" cy="65.80" r="1.70"/><circle cx="415.27" cy="66.40" r="1.70"/><circle cx="416.42" cy="67.00" r="1.70"/><circle cx="417.56" cy="67.61" r="1.70"/><circle cx="418.71" cy="68.24" r="1.70"/><circle cx="419.85" cy="68.87" r="1.70"/><circle cx="421.00" cy="69.51" r="1.70"/>
</g>
<g fill="#ff0000">
<circle cx="73.40" cy="30.75" r="1.00"/><circle cx="75.14" cy="30.67" r="1.00"/><circle cx="76.88" cy="30.59" r="1.00"/><circle cx="78.61" cy="30.52" r="1.00"/><circle cx="80.35" cy="30.45" r="1.00"/><circle cx="82.09" cy="30.38" r="1.00"/><circle cx="83.83" cy="30.32" r="1.00"/><circle cx="85.57" cy="30.26" r="1.00"/><circle cx="87.30" cy="30.21" r="1.00"/><circle cx="89.04" cy="30.17" r="1.00"/><circle cx="90.78" cy="30.13" r="1.00"/><circle cx="92.52" cy="30.09" r="1.00"/><circle cx="94.26" cy="30.06" r="1.00"/><circle cx="95.99" cy="30.03" r="1.00"/><circle cx="97.73" cy="30.00" r="1.00"/><circle cx="99.47" cy="29.97" r="1.00"/><circle cx="101.21" cy="29.95" r="1.00"/><circle cx="102.95" cy="29.93" r="1.00"/><circle cx="104.68" cy="29.91" r="1.00"/><circle cx="106.42" cy="29.89" r="1.00"/><circle cx="108.15" cy="29.87" r="1.00"/><circle cx="109.86" cy="29.86" r="1.00"/><circle cx="111.55" cy="29.85" r="1.00"/><circle cx="113.21" cy="29.84" r="1.00"/><circle cx="114.85" cy="29.83" r="1.00"/><circle cx="116.47" cy="29.82" r="1.00"/><circle cx="118.06" cy="29.81" r="1.00"/><circle cx="119.64" cy="29.81" r="1.00"/><circle cx="121.19" cy="29.80" r="1.00"/><circle cx="122.73" cy="29.80" r="1.00"/><circle cx="124.24" cy="29.80" r="1.00"/><circle cx="125.73" cy="29.80" r="1.00"/><circle cx="127.20" cy="29.80" r="1.00"/><circle cx="128.65" cy="29.80" r="1.00"/><circle cx="130.08" cy="29.80" r="1.00"/><circle cx="131.50" cy="29.80" r="1.00"/><circle cx="132.89" cy="29.80" r="1.00"/><circle cx="134.26" cy="29.81" r="1.00"/><circle cx="135.62" cy="29.81" r="1.00"/><circle cx="136.96" cy="29.81" r="1.00"/><circle cx="138.28" cy="29.82" r="1.00"/><circle cx="139.58" cy="29.82" r="1.00"/><circle cx="140.86" cy="29.83" r="1.00"/><circle cx="142.13" cy="29.83" r="1.00"/><circle cx="143.38" cy="29.84" r="1.00"/><circle cx="144.62" cy="29.85" r="1.00"/><circle cx="145.83" cy="29.85" r="1.00"/><circle cx="147.03" cy="29.86" r="1.00"/><circle cx="148.22" cy="29.87" r="1.00"/><circle cx="149.38" cy="29.88" r="1.00"/><circle cx="150.54" cy="29.88" r="1.00"/><circle cx="151.68" cy="29.89" r="1.00"/><circle cx="152.83" cy="29.90" r="1.00"/><circle cx="153.97" cy="29.91" r="1.00"/><circle cx="155.12" cy="29.92" r="1.00"/><circle cx="156.27" cy="29.93" r="1.00"/><circle cx="157.41" cy="29.94" r="1.00"/><circle cx="158.56" cy="29.95" r="1.00"/><circle cx="159.70" cy="29.96" r="1.00"/><circle cx="160.85" cy="29.97" r="1.00"/><circle cx="162.00" cy="29.99" r="1.00"/><circle cx="163.14" cy="30.00" r="1.00"/><circle cx="164.29" cy="30.01" r="1.00"/><circle cx="165.43" cy="30.03" r="1.00"/><circle cx="166.58" cy="30.04" r="1.00"/><circle cx="167.73" cy="30.06" r="1.00"/><circle cx="168.87" cy="30.07" r="1.00"/><circle cx="170.02" cy="30.09" r="1.00"/><circle cx="171.17" cy="30.11" r="1.00"/><circle cx="172.31" cy="30.12" r="1.00"/><circle cx="173.46" cy="30.14" r="1.00"/><circle cx="174.60" cy="30.16" r="1.00"/><circle cx="175.75" cy="30.18" r="1.00"/><circle cx="176.90" cy="30.20" r="1.00"/><circle cx="178.04" cy="30.22" r="1.00"/><circle cx="179.19" cy="30.24" r="1.00"/><circle cx="180.33" cy="30.26" r="1.00"/><circle cx="181.48" cy="30.29" r="1.00"/><circle cx="182.63" cy="30.31" r="1.00"/><circle cx="183.77" cy="30.33" r="1.00"/><circle cx="184.92" cy="30.36" r="1.00"/><circle cx="186.06" cy="30.38" r="1.00"/><circle cx="187.21" cy="30.41" r="1.00"/><circle cx="188.36" cy="30.44" r="1.00"/><circle cx="189.50" cy="30.46" r="1.00"/><circle cx="190.65" cy="30.49" r="1.00"/><circle cx="191.79" cy="30.52" r="1.00"/><circle cx="192.94" cy="30.55" r="1.00"/><circle cx="194.09" cy="30.58" r="1.00"/><circle cx="195.23" cy="30.61" r="1.00"/><circle cx="196.38" cy="30.64" r="1.00"/><circle cx="197.52" cy="30.68" r="1.00"/><circle cx="198.67" cy="30.71" r="1.00"/><circle cx="199.82" cy="30.74" r="1.00"/><circle cx="200.96" cy="30.78" r="1.00"/><circle cx="202.11" cy="30.81" r="1.00"/><circle cx="203.25" cy="30.85" r="1.00"/><circle cx="204.40" cy="30.88" r="1.00"/><circle cx="205.55" cy="30.92" r="1.00"/><circle cx="206.69" cy="30.96" r="1.00"/><circle cx="207.84" cy="31.00" r="1.00"/><circle cx="208.98" cy="31.04" r="1.00"/><circle cx="210.13" cy="31.08" r="1.00"/><circle cx="211.28" cy="31.12" r="1.00"/><circle cx="212.42" cy="31.16" r="1.00"/><circle cx="213.57" cy="31.20" r="1.00"/><circle cx="214.71" cy="31.24" r="1.00"/><circle cx="215.86" cy="31.28" r="1.00"/><circle cx="217.01" cy="31.33" r="1.00"/><circle cx="218.15" cy="31.37" r="1.00"/><circle cx="219.30" cy="31.42" r="1.00"/><circle cx="220.44" cy="31.46" r="1.00"/><circle cx="221.59" cy="31.51" r="1.00"/><circle cx="222.74" cy="31.56" r="1.00"/><circle cx="223.88" cy="31.60" r="1.00"/><circle cx="225.03" cy="31.65" r="1.00"/><circle cx="226.17" cy="31.70" r="1.00"/><circle cx="227.32" cy="31.75" r="1.00"/><circle cx="228.47" cy="31.80" r="1.00"/><circle cx="229.61" cy="31.85" r="1.00"/><circle cx="230.76" cy="31.90" r="1.00"/><circle cx="231.90" cy="31.96" r="1.00"/><circle cx="233.05" cy="32.01" r="1.00"/><circle cx="234.20" cy="32.06" r="1.00"/><circle cx="235.34" cy="32.12" r="1.00"/><circle cx="236.49" cy="32.17" r="1.00"/><circle cx="237.63" cy="32.23" r="1.00"/><circle cx="238.78" cy="32.29" r="1.00"/><circle cx="239.93" cy="32.34" r="1.00"/><circle cx="241.07" cy="32.40" r="1.00"/><circle cx="242.22" cy="32.46" r="1.00"/><circle cx="243.37" cy="32.52" r="1.00"/><circle cx="244.51" cy="32.59" r="1.00"/><circle cx="245.66" cy="32.65" r="1.00"/><circle cx="246.80" cy="32.71" r="1.00"/><circle cx="247.95" cy="32.78" r="1.00"/><circle cx="249.10" cy="32.84" r="1.00"/><circle cx="250.24" cy="32.91" r="1.00"/><circle cx="251.39" cy="32.97" r="1.00"/><circle cx="252.53" cy="33.04" r="1.00"/><circle cx="253.68" cy="33.11" r="1.00"/><circle cx="254.83" cy="33.18" r="1.00"/><circle cx="255.97" cy="33.26" r="1.00"/><circle cx="257.12" cy="33.33" r="1.00"/><circle cx="258.26" cy="33.40" r="1.00"/><circle cx="259.41" cy="33.48" r="1.00"/><circle cx="260.56" cy="33.55" r="1.00"/><circle cx="261.70" cy="33.63" r="1.00"/><circle cx="262.85" cy="33.71" r="1.00"/><circle cx="263.99" cy="33.79" r="1.00"/><circle cx="265.14" cy="33.87" r="1.00"/><circle cx="266.29" cy="33.95" r="1.00"/><circle cx="267.43" cy="34.04" r="1.00"/><circle cx="268.58" cy="34.12" r="1.00"/><circle cx="269.72" cy="34.21" r="1.00"/><circle cx="270.87" cy="34.30" r="1.00"/><circle cx="272.02" cy="34.39" r="1.00"/><circle cx="273.16" cy="34.48" r="1.00"/><circle cx="274.31" cy="34.57" r="1.00"/><circle cx="275.45" cy="34.67" r="1.00"/><circle cx="276.60" cy="34.76" r="1.00"/><circle cx="277.75" cy="34.86" r="1.00"/><circle cx="278.89" cy="34.96" r="1.00"/><circle cx="280.04" cy="35.06" r="1.00"/><circle cx="281.18" cy="35.16" r="1.00"/><circle cx="282.33" cy="35.26" r="1.00"/><circle cx="283.48" cy="35.37" r="1.00"/><circle cx="284.62" cy="35.48" r="1.00"/><circle cx="285.77" cy="35.59" r="1.00"/><circle cx="286.91" cy="35.70" r="1.00"/><circle cx="288.06" cy="35.81" r="1.00"/><circle cx="289.21" cy="35.92" r="1.00"/><circle cx="290.35" cy="36.04" r="1.00"/><circle cx="291.50" cy="36.16" r="1.00"/><circle cx="292.64" cy="36.28" r="1.00"/><circle cx="293.79" cy="36.40" r="1.00"/><circle cx="294.94" cy="36.53" r="1.00"/><circle cx="296.08" cy="36.65" r="1.00"/><circle cx="297.23" cy="36.78" r="1.00"/><circle cx="298.37" cy="36.91" r="1.00"/><circle cx="299.52" cy="37.04" r="1.00"/><circle cx="300.67" cy="37.18" r="1.00"/><circle cx="301.81" cy="37.31" r="1.00"/><circle cx="302.96" cy="37.45" r="1.00"/><circle cx="304.10" cy="37.59" r="1.00"/><circle cx="305.25" cy="37.74" r="1.00"/><circle cx="306.40" cy="37.88" r="1.00"/><circle cx="307.54" cy="38.03" r="1.00"/><circle cx="308.69" cy="38.18" r="1.00"/><circle cx="309.83" cy="38.34" r="1.00"/><circle cx="310.98" cy="38.49" r="1.00"/><circle cx="312.13" cy="38.65" r="1.00"/><circle cx="313.27" cy="38.81" r="1.00"/><circle cx="314.42" cy="38.97" r="1.00"/><circle cx="315.57" cy="39.14" r="1.00"/><circle cx="316.71" cy="39.30" r="1.00"/><circle cx="317.86" cy="39.47" r="1.00"/><circle cx="319.00" cy="39.65" r="1.00"/><circle cx="320.15" cy="39.82" r="1.00"/><circle cx="321.30" cy="40.00" r="1.00"/><circle cx="322.44" cy="40.18" r="1.00"/><circle cx="323.59" cy="40.37" r="1.00"/><circle cx="324.73" cy="40.56" r="1.00"/><circle cx="325.88" cy="40.75" r="1.00"/><circle cx="327.03" cy="40.94" r="1.00"/><circle cx="328.17" cy="41.14" r="1.00"/><circle cx="329.32" cy="41.34" r="1.00"/><circle cx="330.46" cy="41.55" r="1.00"/><circle cx="331.61" cy="41.76" r="1.00"/><circle cx="332.76" cy="41.97" r="1.00"/><circle cx="333.90" cy="42.19" r="1.00"/><circle cx="335.05" cy="42.41" r="1.00"/><circle cx="336.19" cy="42.63" r="1.00"/><circle cx="337.34" cy="42.86" r="1.00"/><circle cx="338.49" cy="43.09" r="1.00"/><circle cx="339.63" cy="43.33" r="1.00"/><circle cx="340.78" cy="43.57" r="1.00"/><circle cx="341.92" cy="43.81" r="1.00"/><circle cx="343.07" cy="44.06" r="1.00"/><circle cx="344.22" cy="44.31" r="1.00"/><circle cx="345.36" cy="44.57" r="1.00"/><circle cx="346.51" cy="44.83" r="1.00"/><circle cx="347.65" cy="45.09" r="1.00"/><circle cx="348.80" cy="45.35" r="1.00"/><circle cx="349.95" cy="45.62" r="1.00"/><circle cx="351.09" cy="45.89" r="1.00"/><circle cx="352.24" cy="46.17" r="1.00"/><circle cx="353.38" cy="46.45" r="1.00"/><circle cx="354.53" cy="46.73" r="1.00"/><circle cx="355.68" cy="47.02" r="1.00"/><circle cx="356.82" cy="47.32" r="1.00"/><circle cx="357.97" cy="47.62" r="1.00"/><circle cx="359.11" cy="47.92" r="1.00"/><circle cx="360.26" cy="48.23" r="1.00"/><circle cx="361.41" cy="48.55" r="1.00"/><circle cx="362.55" cy="48.87" r="1.00"/><circle cx="363.70" cy="49.19" r="1.00"/><circle cx="364.84" cy="49.52" r="1.00"/><circle cx="365.99" cy="49.85" r="1.00"/><circle cx="367.14" cy="50.18" r="1.00"/><circle cx="368.28" cy="50.52" r="1.00"/><circle cx="369.43" cy="50.85" r="1.00"/><circle cx="370.57" cy="51.19" r="1.00"/><circle cx="371.72" cy="51.52" r="1.00"/><circle cx="372.87" cy="51.86" r="1.00"/><circle cx="374.01" cy="52.20" r="1.00"/><circle cx="375.16" cy="52.55" r="1.00"/><circle cx="376.30" cy="52.90" r="1.00"/><circle cx="377.45" cy="53.25" r="1.00"/><circle cx="378.60" cy="53.61" r="1.00"/><circle cx="379.74" cy="53.98" r="1.00"/><circle cx="380.89" cy="54.35" r="1.00"/><circle cx="382.03" cy="54.72" r="1.00"/><circle cx="383.18" cy="55.11" r="1.00"/><circle cx="384.33" cy="55.49" r="1.00"/><circle cx="385.47" cy="55.89" r="1.00"/><circle cx="386.62" cy="56.28" r="1.00"/><circle cx="387.77" cy="56.69" r="1.00"/><circle cx="388.91" cy="57.10" r="1.00"/><circle cx="390.06" cy="57.52" r="1.00"/><circle cx="391.20" cy="57.94" r="1.00"/><circle cx="392.35" cy="58.38" r="1.00"/><circle cx="393.50" cy="58.81" r="1.00"/><circle cx="394.64" cy="59.26" r="1.00"/><circle cx="395.79" cy="59.71" r="1.00"/><circle cx="396.93" cy="60.17" r="1.00"/><circle cx="398.08" cy="60.64" r="1.00"/><circle cx="399.23" cy="61.11" r="1.00"/><circle cx="400.37" cy="61.59" r="1.00"/><circle cx="401.52" cy="62.08" r="1.00"/><circle cx="402.66" cy="62.57" r="1.00"/><circle cx="403.81" cy="63.08" r="1.00"/><circle cx="404.96" cy="63.59" r="1.00"/><circle cx="406.10" cy="64.11" r="1.00"/><circle cx="407.25" cy="64.63" r="1.00"/><circle cx="408.39" cy="65.17" r="1.00"/><circle cx="409.54" cy="65.71" r="1.00"/><circle cx="410.69" cy="66.26" r="1.00"/><circle cx="411.83" cy="66.82" r="1.00"/><circle cx="412.98" cy="67.39" r="1.00"/><circle cx="414.12" cy="67.97" r="1.00"/><circle cx="415.27" cy="68.55" r="1.00"/><circle cx="416.42" cy="69.15" r="1.00"/><circle cx="417.56" cy="69.75" r="1.00"/><circle cx="418.71" cy="70.37" r="1.00"/><circle cx="419.85" cy="70.99" r="1.00"/><circle cx="421.00" cy="71.62" r="1.00"/>
</g>
<g fill="#000000">
<circle cx="73.40" cy="45.94" r="1.00"/><circle cx="75.14" cy="45.42" r="1.00"/><circle cx="76.88" cy="44.94" r="1.00"/><circle cx="78.61" cy="44.48" r="1.00"/><circle cx="80.35" cy="44.05" r="1.00"/><circle cx="82.09" cy="43.65" r="1.00"/><circle cx="83.83" cy="43.28" r="1.00"/><circle cx="85.57" cy="42.92" r="1.00"/><circle cx="87.30" cy="42.59" r="1.00"/><circle cx="89.04" cy="42.27" r="1.00"/><circle cx="90.78" cy="41.97" r="1.00"/><circle cx="92.52" cy="41.69" r="1.00"/><circle cx="94.26" cy="41.42" r="1.00"/><circle cx="95.99" cy="41.17" r="1.00"/><circle cx="97.73" cy="40.93" r="1.00"/><circle cx="99.47" cy="40.70" r="1.00"/><circle cx="101.21" cy="40.49" r="1.00"/><circle cx="102.95" cy="40.28" r="1.00"/><circle cx="104.68" cy="40.09" r="1.00"/><circle cx="106.42" cy="39.91" r="1.00"/><circle cx="108.15" cy="39.73" r="1.00"/><circle cx="109.86" cy="39.57" r="1.00"/><circle cx="111.55" cy="39.42" r="1.00"/><circle cx="113.21" cy="39.27" r="1.00"/><circle cx="114.85" cy="39.14" r="1.00"/><circle cx="116.47" cy="39.01" r="1.00"/><circle cx="118.06" cy="38.89" r="1.00"/><circle cx="119.64" cy="38.78" r="1.00"/><circle cx="121.19" cy="38.67" r="1.00"/><circle cx="122.73" cy="38.57" r="1.00"/><circle cx="124.24" cy="38.48" r="1.00"/><circle cx="125.73" cy="38.39" r="1.00"/><circle cx="127.20" cy="38.30" r="1.00"/><circle cx="128.65" cy="38.22" r="1.00"/><circle cx="130.08" cy="38.14" r="1.00"/><circle cx="131.50" cy="38.06" r="1.00"/><circle cx="132.89" cy="37.99" r="1.00"/><circle cx="134.26" cy="37.92" r="1.00"/><circle cx="135.62" cy="37.86" r="1.00"/><circle cx="136.96" cy="37.79" r="1.00"/><circle cx="138.28" cy="37.73" r="1.00"/><circle cx="139.58" cy="37.66" r="1.00"/><circle cx="140.86" cy="37.60" r="1.00"/><circle cx="142.13" cy="37.53" r="1.00"/><circle cx="143.38" cy="37.47" r="1.00"/><circle cx="144.62" cy="37.40" r="1.00"/><circle cx="145.83" cy="37.34" r="1.00"/><circle cx="147.03" cy="37.27" r="1.00"/><circle cx="148.22" cy="37.21" r="1.00"/><circle cx="149.38" cy="37.15" r="1.00"/><circle cx="150.54" cy="37.10" r="1.00"/><circle cx="151.68" cy="37.04" r="1.00"/><circle cx="152.83" cy="36.99" r="1.00"/><circle cx="153.97" cy="36.94" r="1.00"/><circle cx="155.12" cy="36.89" r="1.00"/><circle cx="156.27" cy="36.84" r="1.00"/><circle cx="157.41" cy="36.80" r="1.00"/><circle cx="158.56" cy="36.76" r="1.00"/><circle cx="159.70" cy="36.72" r="1.00"/><circle cx="160.85" cy="36.69" r="1.00"/><circle cx="162.00" cy="36.66" r="1.00"/><circle cx="163.14" cy="36.63" r="1.00"/><circle cx="164.29" cy="36.60" r="1.00"/><circle cx="165.43" cy="36.58" r="1.00"/><circle cx="166.58" cy="36.55" r="1.00"/><circle cx="167.73" cy="36.53" r="1.00"/><circle cx="168.87" cy="36.51" r="1.00"/><circle cx="170.02" cy="36.49" r="1.00"/><circle cx="171.17" cy="36.47" r="1.00"/><circle cx="172.31" cy="36.45" r="1.00"/><circle cx="173.46" cy="36.43" r="1.00"/><circle cx="174.60" cy="36.42" r="1.00"/><circle cx="175.75" cy="36.40" r="1.00"/><circle cx="176.90" cy="36.39" r="1.00"/><circle cx="178.04" cy="36.37" r="1.00"/><circle cx="179.19" cy="36.36" r="1.00"/><circle cx="180.33" cy="36.35" r="1.00"/><circle cx="181.48" cy="36.34" r="1.00"/><circle cx="182.63" cy="36.34" r="1.00"/><circle cx="183.77" cy="36.33" r="1.00"/><circle cx="184.92" cy="36.32" r="1.00"/><circle cx="186.06" cy="36.32" r="1.00"/><circle cx="187.21" cy="36.31" r="1.00"/><circle cx="188.36" cy="36.31" r="1.00"/><circle cx="189.50" cy="36.31" r="1.00"/><circle cx="190.65" cy="36.30" r="1.00"/><circle cx="191.79" cy="36.30" r="1.00"/><circle cx="192.94" cy="36.30" r="1.00"/><circle cx="194.09" cy="36.31" r="1.00"/><circle cx="195.23" cy="36.31" r="1.00"/><circle cx="196.38" cy="36.31" r="1.00"/><circle cx="197.52" cy="36.31" r="1.00"/><circle cx="198.67" cy="36.32" r="1.00"/><circle cx="199.82" cy="36.33" r="1.00"/><circle cx="200.96" cy="36.33" r="1.00"/><circle cx="202.11" cy="36.34" r="1.00"/><circle cx="203.25" cy="36.35" r="1.00"/><circle cx="204.40" cy="36.36" r="1.00"/><circle cx="205.55" cy="36.37" r="1.00"/><circle cx="206.69" cy="36.38" r="1.00"/><circle cx="207.84" cy="36.39" r="1.00"/><circle cx="208.98" cy="36.41" r="1.00"/><circle cx="210.13" cy="36.42" r="1.00"/><circle cx="211.28" cy="36.44" r="1.00"/><circle cx="212.42" cy="36.46" r="1.00"/><circle cx="213.57" cy="36.47" r="1.00"/><circle cx="214.71" cy="36.49" r="1.00"/><circle cx="215.86" cy="36.51" r="1.00"/><circle cx="217.01" cy="36.53" r="1.00"/><circle cx="218.15" cy="36.56" r="1.00"/><circle cx="219.30" cy="36.58" r="1.00"/><circle cx="220.44" cy="36.60" r="1.00"/><circle cx="221.59" cy="36.63" r="1.00"/><circle cx="222.74" cy="36.66" r="1.00"/><circle cx="223.88" cy="36.68" r="1.00"/><circle cx="225.03" cy="36.71" r="1.00"/><circle cx="226.17" cy="36.74" r="1.00"/><circle cx="227.32" cy="36.77" r="1.00"/><circle cx="228.47" cy="36.81" r="1.00"/><circle cx="229.61" cy="36.84" r="1.00"/><circle cx="230.76" cy="36.87" r="1.00"/><circle cx="231.90" cy="36.91" r="1.00"/><circle cx="233.05" cy="36.95" r="1.00"/><circle cx="234.20" cy="36.99" r="1.00"/><circle cx="235.34" cy="37.02" r="1.00"/><circle cx="236.49" cy="37.06" r="1.00"/><circle cx="237.63" cy="37.11" r="1.00"/><circle cx="238.78" cy="37.15" r="1.00"/><circle cx="239.93" cy="37.19" r="1.00"/><circle cx="241.07" cy="37.24" r="1.00"/><circle cx="242.22" cy="37.28" r="1.00"/><circle cx="243.37" cy="37.33" r="1.00"/><circle cx="244.51" cy="37.38" r="1.00"/><circle cx="245.66" cy="37.42" r="1.00"/><circle cx="246.80" cy="37.47" r="1.00"/><circle cx="247.95" cy="37.53" r="1.00"/><circle cx="249.10" cy="37.58" r="1.00"/><circle cx="250.24" cy="37.63" r="1.00"/><circle cx="251.39" cy="37.69" r="1.00"/><circle cx="252.53" cy="37.74" r="1.00"/><circle cx="253.68" cy="37.80" r="1.00"/><circle cx="254.83" cy="37.86" r="1.00"/><circle cx="255.97" cy="37.92" r="1.00"/><circle cx="257.12" cy="37.98" r="1.00"/><circle cx="258.26" cy="38.04" r="1.00"/><circle cx="259.41" cy="38.10" r="1.00"/><circle cx="260.56" cy="38.17" r="1.00"/><circle cx="261.70" cy="38.23" r="1.00"/><circle cx="262.85" cy="38.30" r="1.00"/><circle cx="263.99" cy="38.37" r="1.00"/><circle cx="265.14" cy="38.44" r="1.00"/><circle cx="266.29" cy="38.51" r="1.00"/><circle cx="267.43" cy="38.58" r="1.00"/><circle cx="268.58" cy="38.66" r="1.00"/><circle cx="269.72" cy="38.73" r="1.00"/><circle cx="270.87" cy="38.81" r="1.00"/><circle cx="272.02" cy="38.89" r="1.00"/><circle cx="273.16" cy="38.97" r="1.00"/><circle cx="274.31" cy="39.05" r="1.00"/><circle cx="275.45" cy="39.13" r="1.00"/><circle cx="276.60" cy="39.22" r="1.00"/><circle cx="277.75" cy="39.30" r="1.00"/><circle cx="278.89" cy="39.39" r="1.00"/><circle cx="280.04" cy="39.48" r="1.00"/><circle cx="281.18" cy="39.57" r="1.00"/><circle cx="282.33" cy="39.67" r="1.00"/><circle cx="283.48" cy="39.76" r="1.00"/><circle cx="284.62" cy="39.86" r="1.00"/><circle cx="285.77" cy="39.96" r="1.00"/><circle cx="286.91" cy="40.07" r="1.00"/><circle cx="288.06" cy="40.17" r="1.00"/><circle cx="289.21" cy="40.28" r="1.00"/><circle cx="290.35" cy="40.39" r="1.00"/><circle cx="291.50" cy="40.50" r="1.00"/><circle cx="292.64" cy="40.61" r="1.00"/><circle cx="293.79" cy="40.73" r="1.00"/><circle cx="294.94" cy="40.84" r="1.00"/><circle cx="296.08" cy="40.97" r="1.00"/><circle cx="297.23" cy="41.09" r="1.00"/><circle cx="298.37" cy="41.21" r="1.00"/><circle cx="299.52" cy="41.34" r="1.00"/><circle cx="300.67" cy="41.47" r="1.00"/><circle cx="301.81" cy="41.60" r="1.00"/><circle cx="302.96" cy="41.74" r="1.00"/><circle cx="304.10" cy="41.87" r="1.00"/><circle cx="305.25" cy="42.01" r="1.00"/><circle cx="306.40" cy="42.15" r="1.00"/><circle cx="307.54" cy="42.30" r="1.00"/><circle cx="308.69" cy="42.44" r="1.00"/><circle cx="309.83" cy="42.59" r="1.00"/><circle cx="310.98" cy="42.75" r="1.00"/><circle cx="312.13" cy="42.90" r="1.00"/><circle cx="313.27" cy="43.06" r="1.00"/><circle cx="314.42" cy="43.22" r="1.00"/><circle cx="315.57" cy="43.38" r="1.00"/><circle cx="316.71" cy="43.54" r="1.00"/><circle cx="317.86" cy="43.71" r="1.00"/><circle cx="319.00" cy="43.88" r="1.00"/><circle cx="320.15" cy="44.05" r="1.00"/><circle cx="321.30" cy="44.23" r="1.00"/><circle cx="322.44" cy="44.41" r="1.00"/><circle cx="323.59" cy="44.59" r="1.00"/><circle cx="324.73" cy="44.77" r="1.00"/><circle cx="325.88" cy="44.96" r="1.00"/><circle cx="327.03" cy="45.16" r="1.00"/><circle cx="328.17" cy="45.36" r="1.00"/><circle cx="329.32" cy="45.57" r="1.00"/><circle cx="330.46" cy="45.78" r="1.00"/><circle cx="331.61" cy="46.00" r="1.00"/><circle cx="332.76" cy="46.23" r="1.00"/><circle cx="333.90" cy="46.45" r="1.00"/><circle cx="335.05" cy="46.69" r="1.00"/><circle cx="336.19" cy="46.93" r="1.00"/><circle cx="337.34" cy="47.17" r="1.00"/><circle cx="338.49" cy="47.42" r="1.00"/><circle cx="339.63" cy="47.67" r="1.00"/><circle cx="340.78" cy="47.92" r="1.00"/><circle cx="341.92" cy="48.17" r="1.00"/><circle cx="343.07" cy="48.43" r="1.00"/><circle cx="344.22" cy="48.69" r="1.00"/><circle cx="345.36" cy="48.95" r="1.00"/><circle cx="346.51" cy="49.22" r="1.00"/><circle cx="347.65" cy="49.48" r="1.00"/><circle cx="348.80" cy="49.75" r="1.00"/><circle cx="349.95" cy="50.01" r="1.00"/><circle cx="351.09" cy="50.28" r="1.00"/><circle cx="352.24" cy="50.55" r="1.00"/><circle cx="353.38" cy="50.81" r="1.00"/><circle cx="354.53" cy="51.08" r="1.00"/><circle cx="355.68" cy="51.34" r="1.00"/><circle cx="356.82" cy="51.61" r="1.00"/><circle cx="357.97" cy="51.88" r="1.00"/><circle cx="359.11" cy="52.16" r="1.00"/><circle cx="360.26" cy="52.44" r="1.00"/><circle cx="361.41" cy="52.73" r="1.00"/><circle cx="362.55" cy="53.02" r="1.00"/><circle cx="363.70" cy="53.32" r="1.00"/><circle cx="364.84" cy="53.62" r="1.00"/><circle cx="365.99" cy="53.92" r="1.00"/><circle cx="367.14" cy="54.23" r="1.00"/><circle cx="368.28" cy="54.55" r="1.00"/><circle cx="369.43" cy="54.87" r="1.00"/><circle cx="370.57" cy="55.19" r="1.00"/><circle cx="371.72" cy="55.52" r="1.00"/><circle cx="372.87" cy="55.86" r="1.00"/><circle cx="374.01" cy="56.20" r="1.00"/><circle cx="375.16" cy="56.56" r="1.00"/><circle cx="376.30" cy="56.92" r="1.00"/><circle cx="377.45" cy="57.29" r="1.00"/><circle cx="378.60" cy="57.67" r="1.00"/><circle cx="379.74" cy="58.06" r="1.00"/><circle cx="380.89" cy="58.46" r="1.00"/><circle cx="382.03" cy="58.86" r="1.00"/><circle cx="383.18" cy="59.27" r="1.00"/><circle cx="384.33" cy="59.69" r="1.00"/><circle cx="385.47" cy="60.11" r="1.00"/><circle cx="386.62" cy="60.54" r="1.00"/><circle cx="387.77" cy="60.98" r="1.00"/><circle cx="388.91" cy="61.42" r="1.00"/><circle cx="390.06" cy="61.86" r="1.00"/><circle cx="391.20" cy="62.31" r="1.00"/><circle cx="392.35" cy="62.77" r="1.00"/><circle cx="393.50" cy="63.24" r="1.00"/><circle cx="394.64" cy="63.71" r="1.00"/><circle cx="395.79" cy="64.19" r="1.00"/><circle cx="396.93" cy="64.68" r="1.00"/><circle cx="398.08" cy="65.18" r="1.00"/><circle cx="399.23" cy="65.68" r="1.00"/><circle cx="400.37" cy="66.19" r="1.00"/><circle cx="401.52" cy="66.71" r="1.00"/><circle cx="402.66" cy="67.24" r="1.00"/><circle cx="403.81" cy="67.77" r="1.00"/><circle cx="404.96" cy="68.32" r="1.00"/><circle cx="406.10" cy="68.87" r="1.00"/><circle cx="407.25" cy="69.43" r="1.00"/><circle cx="408.39" cy="70.00" r="1.00"/><circle cx="409.54" cy="70.57" r="1.00"/><circle cx="410.69" cy="71.16" r="1.00"/><circle cx="411.83" cy="71.76" r="1.00"/><circle cx="412.98" cy="72.36" r="1.00"/><circle cx="414.12" cy="72.97" r="1.00"/><circle cx="415.27" cy="73.60" r="1.00"/><circle cx="416.42" cy="74.23" r="1.00"/><circle cx="417.56" cy="74.87" r="1.00"/><circle cx="418.71" cy="75.52" r="1.00"/><circle cx="419.85" cy="76.18" r="1.00"/><circle cx="421.00" cy="76.86" r="1.00"/>
</g>
<g fill="#0000ff">
<circle cx="73.40" cy="98.99" r="0.90"/><circle cx="75.14" cy="95.17" r="0.90"/><circle cx="76.88" cy="91.73" r="0.90"/><circle cx="78.61" cy="88.63" r="0.90"/><circle cx="80.35" cy="85.81" r="0.90"/><circle cx="82.09" cy="83.23" r="0.90"/><circle cx="83.83" cy="80.88" r="0.90"/><circle cx="85.57" cy="78.71" r="0.90"/><circle cx="87.30" cy="76.72" r="0.90"/><circle cx="89.04" cy="74.87" r="0.90"/><circle cx="90.78" cy="73.15" r="0.90"/><circle cx="92.52" cy="71.56" r="0.90"/><circle cx="94.26" cy="70.08" r="0.90"/><circle cx="95.99" cy="68.70" r="0.90"/><circle cx="97.73" cy="67.41" r="0.90"/><circle cx="99.47" cy="66.20" r="0.90"/><circle cx="101.21" cy="65.08" r="0.90"/><circle cx="102.95" cy="64.04" r="0.90"/><circle cx="104.68" cy="63.07" r="0.90"/><circle cx="106.42" cy="62.18" r="0.90"/><circle cx="108.15" cy="61.35" r="0.90"/><circle cx="109.86" cy="60.59" r="0.90"/><circle cx="111.55" cy="59.89" r="0.90"/><circle cx="113.21" cy="59.24" r="0.90"/><circle cx="114.85" cy="58.63" r="0.90"/><circle cx="116.47" cy="58.06" r="0.90"/><circle cx="118.06" cy="57.53" r="0.90"/><circle cx="119.64" cy="57.02" r="0.90"/><circle cx="121.19" cy="56.53" r="0.90"/><circle cx="122.73" cy="56.07" r="0.90"/><circle cx="124.24" cy="55.63" r="0.90"/><circle cx="125.73" cy="55.22" r="0.90"/><circle cx="127.20" cy="54.83" r="0.90"/><circle cx="128.65" cy="54.46" r="0.90"/><circle cx="130.08" cy="54.12" r="0.90"/><circle cx="131.50" cy="53.79" r="0.90"/><circle cx="132.89" cy="53.48" r="0.90"/><circle cx="134.26" cy="53.18" r="0.90"/><circle cx="135.62" cy="52.90" r="0.90"/><circle cx="136.96" cy="52.64" r="0.90"/><circle cx="138.28" cy="52.38" r="0.90"/><circle cx="139.58" cy="52.14" r="0.90"/><circle cx="140.86" cy="51.90" r="0.90"/><circle cx="142.13" cy="51.68" r="0.90"/><circle cx="143.38" cy="51.47" r="0.90"/><circle cx="144.62" cy="51.26" r="0.90"/><circle cx="145.83" cy="51.06" r="0.90"/><circle cx="147.03" cy="50.88" r="0.90"/><circle cx="148.22" cy="50.70" r="0.90"/><circle cx="149.38" cy="50.52" r="0.90"/><circle cx="150.54" cy="50.36" r="0.90"/><circle cx="151.68" cy="50.20" r="0.90"/><circle cx="152.83" cy="50.04" r="0.90"/><circle cx="153.97" cy="49.89" r="0.90"/><circle cx="155.12" cy="49.75" r="0.90"/><circle cx="156.27" cy="49.61" r="0.90"/><circle cx="157.41" cy="49.47" r="0.90"/><circle cx="158.56" cy="49.34" r="0.90"/><circle cx="159.70" cy="49.21" r="0.90"/><circle cx="160.85" cy="49.09" r="0.90"/><circle cx="162.00" cy="48.97" r="0.90"/><circle cx="163.14" cy="48.85" r="0.90"/><circle cx="164.29" cy="48.74" r="0.90"/><circle cx="165.43" cy="48.62" r="0.90"/><circle cx="166.58" cy="48.52" r="0.90"/><circle cx="167.73" cy="48.41" r="0.90"/><circle cx="168.87" cy="48.31" r="0.90"/><circle cx="170.02" cy="48.21" r="0.90"/><circle cx="171.17" cy="48.11" r="0.90"/><circle cx="172.31" cy="48.02" r="0.90"/><circle cx="173.46" cy="47.93" r="0.90"/><circle cx="174.60" cy="47.84" r="0.90"/><circle cx="175.75" cy="47.76" r="0.90"/><circle cx="176.90" cy="47.67" r="0.90"/><circle cx="178.04" cy="47.60" r="0.90"/><circle cx="179.19" cy="47.52" r="0.90"/><circle cx="180.33" cy="47.45" r="0.90"/><circle cx="181.48" cy="47.38" r="0.90"/><circle cx="182.63" cy="47.32" r="0.90"/><circle cx="183.77" cy="47.25" r="0.90"/><circle cx="184.92" cy="47.19" r="0.90"/><circle cx="186.06" cy="47.14" r="0.90"/><circle cx="187.21" cy="47.08" r="0.90"/><circle cx="188.36" cy="47.03" r="0.90"/><circle cx="189.50" cy="46.98" r="0.90"/><circle cx="190.65" cy="46.94" r="0.90"/><circle cx="191.79" cy="46.89" r="0.90"/><circle cx="192.94" cy="46.85" r="0.90"/><circle cx="194.09" cy="46.81" r="0.90"/><circle cx="195.23" cy="46.77" r="0.90"/><circle cx="196.38" cy="46.73" r="0.90"/><circle cx="197.52" cy="46.70" r="0.90"/><circle cx="198.67" cy="46.67" r="0.90"/><circle cx="199.82" cy="46.64" r="0.90"/><circle cx="200.96" cy="46.61" r="0.90"/><circle cx="202.11" cy="46.58" r="0.90"/><circle cx="203.25" cy="46.56" r="0.90"/><circle cx="204.40" cy="46.53" r="0.90"/><circle cx="205.55" cy="46.51" r="0.90"/><circle cx="206.69" cy="46.49" r="0.90"/><circle cx="207.84" cy="46.47" r="0.90"/><circle cx="208.98" cy="46.46" r="0.90"/><circle cx="210.13" cy="46.44" r="0.90"/><circle cx="211.28" cy="46.43" r="0.90"/><circle cx="212.42" cy="46.42" r="0.90"/><circle cx="213.57" cy="46.41" r="0.90"/><circle cx="214.71" cy="46.40" r="0.90"/><circle cx="215.86" cy="46.39" r="0.90"/><circle cx="217.01" cy="46.38" r="0.90"/><circle cx="218.15" cy="46.38" r="0.90"/><circle cx="219.30" cy="46.38" r="0.90"/><circle cx="220.44" cy="46.38" r="0.90"/><circle cx="221.59" cy="46.38" r="0.90"/><circle cx="222.74" cy="46.38" r="0.90"/><circle cx="223.88" cy="46.39" r="0.90"/><circle cx="225.03" cy="46.39" r="0.90"/><circle cx="226.17" cy="46.40" r="0.90"/><circle cx="227.32" cy="46.41" r="0.90"/><circle cx="228.47" cy="46.43" r="0.90"/><circle cx="229.61" cy="46.44" r="0.90"/><circle cx="230.76" cy="46.46" r="0.90"/><circle cx="231.90" cy="46.48" r="0.90"/><circle cx="233.05" cy="46.50" r="0.90"/><circle cx="234.20" cy="46.52" r="0.90"/><circle cx="235.34" cy="46.54" r="0.90"/><circle cx="236.49" cy="46.57" r="0.90"/><circle cx="237.63" cy="46.59" r="0.90"/><circle cx="238.78" cy="46.62" r="0.90"/><circle cx="239.93" cy="46.65" r="0.90"/><circle cx="241.07" cy="46.68" r="0.90"/><circle cx="242.22" cy="46.71" r="0.90"/><circle cx="243.37" cy="46.75" r="0.90"/><circle cx="244.51" cy="46.78" r="0.90"/><circle cx="245.66" cy="46.82" r="0.90"/><circle cx="246.80" cy="46.85" r="0.90"/><circle cx="247.95" cy="46.89" r="0.90"/><circle cx="249.10" cy="46.93" r="0.90"/><circle cx="250.24" cy="46.97" r="0.90"/><circle cx="251.39" cy="47.02" r="0.90"/><circle cx="252.53" cy="47.06" r="0.90"/><circle cx="253.68" cy="47.11" r="0.90"/><circle cx="254.83" cy="47.15" r="0.90"/><circle cx="255.97" cy="47.20" r="0.90"/><circle cx="257.12" cy="47.25" r="0.90"/><circle cx="258.26" cy="47.30" r="0.90"/><circle cx="259.41" cy="47.35" r="0.90"/><circle cx="260.56" cy="47.40" r="0.90"/><circle cx="261.70" cy="47.45" r="0.90"/><circle cx="262.85" cy="47.50" r="0.90"/><circle cx="263.99" cy="47.55" r="0.90"/><circle cx="265.14" cy="47.60" r="0.90"/><circle cx="266.29" cy="47.66" r="0.90"/><circle cx="267.43" cy="47.72" r="0.90"/><circle cx="268.58" cy="47.78" r="0.90"/><circle cx="269.72" cy="47.84" r="0.90"/><circle cx="270.87" cy="47.90" r="0.90"/><circle cx="272.02" cy="47.96" r="0.90"/><circle cx="273.16" cy="48.03" r="0.90"/><circle cx="274.31" cy="48.10" r="0.90"/><circle cx="275.45" cy="48.17" r="0.90"/><circle cx="276.60" cy="48.25" r="0.90"/><circle cx="277.75" cy="48.32" r="0.90"/><circle cx="278.89" cy="48.41" r="0.90"/><circle cx="280.04" cy="48.49" r="0.90"/><circle cx="281.18" cy="48.57" r="0.90"/><circle cx="282.33" cy="48.66" r="0.90"/><circle cx="283.48" cy="48.75" r="0.90"/><circle cx="284.62" cy="48.84" r="0.90"/><circle cx="285.77" cy="48.93" r="0.90"/><circle cx="286.91" cy="49.03" r="0.90"/><circle cx="288.06" cy="49.13" r="0.90"/><circle cx="289.21" cy="49.23" r="0.90"/><circle cx="290.35" cy="49.33" r="0.90"/><circle cx="291.50" cy="49.43" r="0.90"/><circle cx="292.64" cy="49.54" r="0.90"/><circle cx="293.79" cy="49.65" r="0.90"/><circle cx="294.94" cy="49.76" r="0.90"/><circle cx="296.08" cy="49.87" r="0.90"/><circle cx="297.23" cy="49.98" r="0.90"/><circle cx="298.37" cy="50.10" r="0.90"/><circle cx="299.52" cy="50.22" r="0.90"/><circle cx="300.67" cy="50.34" r="0.90"/><circle cx="301.81" cy="50.46" r="0.90"/><circle cx="302.96" cy="50.59" r="0.90"/><circle cx="304.10" cy="50.71" r="0.90"/><circle cx="305.25" cy="50.84" r="0.90"/><circle cx="306.40" cy="50.97" r="0.90"/><circle cx="307.54" cy="51.11" r="0.90"/><circle cx="308.69" cy="51.24" r="0.90"/><circle cx="309.83" cy="51.38" r="0.90"/><circle cx="310.98" cy="51.52" r="0.90"/><circle cx="312.13" cy="51.67" r="0.90"/><circle cx="313.27" cy="51.81" r="0.90"/><circle cx="314.42" cy="51.96" r="0.90"/><circle cx="315.57" cy="52.12" r="0.90"/><circle cx="316.71" cy="52.27" r="0.90"/><circle cx="317.86" cy="52.43" r="0.90"/><circle cx="319.00" cy="52.59" r="0.90"/><circle cx="320.15" cy="52.75" r="0.90"/><circle cx="321.30" cy="52.92" r="0.90"/><circle cx="322.44" cy="53.09" r="0.90"/><circle cx="323.59" cy="53.27" r="0.90"/><circle cx="324.73" cy="53.44" r="0.90"/><circle cx="325.88" cy="53.62" r="0.90"/><circle cx="327.03" cy="53.81" r="0.90"/><circle cx="328.17" cy="54.00" r="0.90"/><circle cx="329.32" cy="54.20" r="0.90"/><circle cx="330.46" cy="54.41" r="0.90"/><circle cx="331.61" cy="54.62" r="0.90"/><circle cx="332.76" cy="54.83" r="0.90"/><circle cx="333.90" cy="55.05" r="0.90"/><circle cx="335.05" cy="55.27" r="0.90"/><circle cx="336.19" cy="55.50" r="0.90"/><circle cx="337.34" cy="55.74" r="0.90"/><circle cx="338.49" cy="55.97" r="0.90"/><circle cx="339.63" cy="56.21" r="0.90"/><circle cx="340.78" cy="56.46" r="0.90"/><circle cx="341.92" cy="56.70" r="0.90"/><circle cx="343.07" cy="56.95" r="0.90"/><circle cx="344.22" cy="57.20" r="0.90"/><circle cx="345.36" cy="57.46" r="0.90"/><circle cx="346.51" cy="57.72" r="0.90"/><circle cx="347.65" cy="57.98" r="0.90"/><circle cx="348.80" cy="58.24" r="0.90"/><circle cx="349.95" cy="58.50" r="0.90"/><circle cx="351.09" cy="58.77" r="0.90"/><circle cx="352.24" cy="59.05" r="0.90"/><circle cx="353.38" cy="59.33" r="0.90"/><circle cx="354.53" cy="59.61" r="0.90"/><circle cx="355.68" cy="59.90" r="0.90"/><circle cx="356.82" cy="60.19" r="0.90"/><circle cx="357.97" cy="60.49" r="0.90"/><circle cx="359.11" cy="60.78" r="0.90"/><circle cx="360.26" cy="61.09" r="0.90"/><circle cx="361.41" cy="61.40" r="0.90"/><circle cx="362.55" cy="61.71" r="0.90"/><circle cx="363.70" cy="62.02" r="0.90"/><circle cx="364.84" cy="62.34" r="0.90"/><circle cx="365.99" cy="62.66" r="0.90"/><circle cx="367.14" cy="62.99" r="0.90"/><circle cx="368.28" cy="63.32" r="0.90"/><circle cx="369.43" cy="63.66" r="0.90"/><circle cx="370.57" cy="63.99" r="0.90"/><circle cx="371.72" cy="64.34" r="0.90"/><circle cx="372.87" cy="64.68" r="0.90"/><circle cx="374.01" cy="65.04" r="0.90"/><circle cx="375.16" cy="65.39" r="0.90"/><circle cx="376.30" cy="65.76" r="0.90"/><circle cx="377.45" cy="66.12" r="0.90"/><circle cx="378.60" cy="66.50" r="0.90"/><circle cx="379.74" cy="66.88" r="0.90"/><circle cx="380.89" cy="67.26" r="0.90"/><circle cx="382.03" cy="67.65" r="0.90"/><circle cx="383.18" cy="68.04" r="0.90"/><circle cx="384.33" cy="68.44" r="0.90"/><circle cx="385.47" cy="68.84" r="0.90"/><circle cx="386.62" cy="69.25" r="0.90"/><circle cx="387.77" cy="69.67" r="0.90"/><circle cx="388.91" cy="70.08" r="0.90"/><circle cx="390.06" cy="70.51" r="0.90"/><circle cx="391.20" cy="70.92" r="0.90"/><circle cx="392.35" cy="71.32" r="0.90"/><circle cx="393.50" cy="71.73" r="0.90"/><circle cx="394.64" cy="72.16" r="0.90"/><circle cx="395.79" cy="72.62" r="0.90"/><circle cx="396.93" cy="73.08" r="0.90"/><circle cx="398.08" cy="73.56" r="0.90"/><circle cx="399.23" cy="74.05" r="0.90"/><circle cx="400.37" cy="74.55" r="0.90"/><circle cx="401.52" cy="75.06" r="0.90"/><circle cx="402.66" cy="75.58" r="0.90"/><circle cx="403.81" cy="76.11" r="0.90"/><circle cx="404.96" cy="76.65" r="0.90"/><circle cx="406.10" cy="77.21" r="0.90"/><circle cx="407.25" cy="77.78" r="0.90"/><circle cx="408.39" cy="78.36" r="0.90"/><circle cx="409.54" cy="78.96" r="0.90"/><circle cx="410.69" cy="79.56" r="0.90"/><circle cx="411.83" cy="80.19" r="0.90"/><circle cx="412.98" cy="80.82" r="0.90"/><circle cx="414.12" cy="81.47" r="0.90"/><circle cx="415.27" cy="82.13" r="0.90"/><circle cx="416.42" cy="82.81" r="0.90"/><circle cx="417.56" cy="83.50" r="0.90"/><circle cx="418.71" cy="84.21" r="0.90"/><circle cx="419.85" cy="84.94" r="0.90"/><circle cx="421.00" cy="85.68" r="0.90"/>
</g>
<g fill="#00ffff">
<circle cx="80.35" cy="261.38" r="1.30"/><circle cx="82.09" cy="237.49" r="1.30"/><circle cx="83.83" cy="217.74" r="1.30"/><circle cx="85.57" cy="201.24" r="1.30"/><circle cx="87.30" cy="187.31" r="1.30"/><circle cx="89.04" cy="175.41" r="1.30"/><circle cx="90.78" cy="165.15" r="1.30"/><circle cx="92.52" cy="156.22" r="1.30"/><circle cx="94.26" cy="148.36" r="1.30"/><circle cx="95.99" cy="141.40" r="1.30"/><circle cx="97.73" cy="135.19" r="1.30"/><circle cx="99.47" cy="129.60" r="1.30"/><circle cx="101.21" cy="124.56" r="1.30"/><circle cx="102.95" cy="119.97" r="1.30"/><circle cx="104.68" cy="115.79" r="1.30"/><circle cx="106.42" cy="111.96" r="1.30"/><circle cx="108.15" cy="108.49" r="1.30"/><circle cx="109.86" cy="105.40" r="1.30"/><circle cx="111.55" cy="102.62" r="1.29"/><circle cx="113.21" cy="100.11" r="1.28"/><circle cx="114.85" cy="97.83" r="1.26"/><circle cx="116.47" cy="95.73" r="1.25"/><circle cx="118.06" cy="93.77" r="1.24"/><circle cx="119.64" cy="91.97" r="1.23"/><circle cx="121.19" cy="90.31" r="1.22"/><circle cx="122.73" cy="88.79" r="1.20"/><circle cx="124.24" cy="87.37" r="1.19"/><circle cx="125.73" cy="86.04" r="1.18"/><circle cx="127.20" cy="84.80" r="1.17"/><circle cx="128.65" cy="83.62" r="1.16"/><circle cx="130.08" cy="82.49" r="1.15"/><circle cx="131.50" cy="81.43" r="1.15"/><circle cx="132.89" cy="80.43" r="1.15"/><circle cx="134.26" cy="79.50" r="1.15"/><circle cx="135.62" cy="78.62" r="1.15"/><circle cx="136.96" cy="77.79" r="1.15"/><circle cx="138.28" cy="77.02" r="1.15"/><circle cx="139.58" cy="76.28" r="1.15"/><circle cx="140.86" cy="75.59" r="1.15"/><circle cx="142.13" cy="74.94" r="1.15"/><circle cx="143.38" cy="74.33" r="1.15"/><circle cx="144.62" cy="73.74" r="1.15"/><circle cx="145.83" cy="73.19" r="1.15"/><circle cx="147.03" cy="72.66" r="1.15"/><circle cx="148.22" cy="72.16" r="1.15"/><circle cx="149.38" cy="71.68" r="1.15"/><circle cx="150.54" cy="71.23" r="1.15"/><circle cx="151.68" cy="70.79" r="1.15"/><circle cx="152.83" cy="70.37" r="1.15"/><circle cx="153.97" cy="69.96" r="1.15"/><circle cx="155.12" cy="69.56" r="1.15"/><circle cx="156.27" cy="69.18" r="1.15"/><circle cx="157.41" cy="68.81" r="1.15"/><circle cx="158.56" cy="68.45" r="1.15"/><circle cx="159.70" cy="68.11" r="1.15"/><circle cx="160.85" cy="67.77" r="1.15"/><circle cx="162.00" cy="67.45" r="1.15"/><circle cx="163.14" cy="67.14" r="1.15"/><circle cx="164.29" cy="66.84" r="1.15"/><circle cx="165.43" cy="66.55" r="1.15"/><circle cx="166.58" cy="66.26" r="1.15"/><circle cx="167.73" cy="65.99" r="1.15"/><circle cx="168.87" cy="65.73" r="1.15"/><circle cx="170.02" cy="65.47" r="1.15"/><circle cx="171.17" cy="65.22" r="1.15"/><circle cx="172.31" cy="64.98" r="1.15"/><circle cx="173.46" cy="64.75" r="1.15"/><circle cx="174.60" cy="64.52" r="1.15"/><circle cx="175.75" cy="64.31" r="1.15"/><circle cx="176.90" cy="64.09" r="1.15"/><circle cx="178.04" cy="63.89" r="1.15"/><circle cx="179.19" cy="63.69" r="1.15"/><circle cx="180.33" cy="63.50" r="1.15"/><circle cx="181.48" cy="63.31" r="1.15"/><circle cx="182.63" cy="63.13" r="1.15"/><circle cx="183.77" cy="62.96" r="1.15"/><circle cx="184.92" cy="62.79" r="1.15"/><circle cx="186.06" cy="62.63" r="1.15"/><circle cx="187.21" cy="62.47" r="1.15"/><circle cx="188.36" cy="62.32" r="1.15"/><circle cx="189.50" cy="62.17" r="1.15"/><circle cx="190.65" cy="62.03" r="1.15"/><circle cx="191.79" cy="61.89" r="1.15"/><circle cx="192.94" cy="61.76" r="1.15"/><circle cx="194.09" cy="61.63" r="1.15"/><circle cx="195.23" cy="61.50" r="1.15"/><circle cx="196.38" cy="61.38" r="1.15"/><circle cx="197.52" cy="61.27" r="1.15"/><circle cx="198.67" cy="61.16" r="1.15"/><circle cx="199.82" cy="61.05" r="1.15"/><circle cx="200.96" cy="60.95" r="1.15"/><circle cx="202.11" cy="60.85" r="1.15"/><circle cx="203.25" cy="60.75" r="1.15"/><circle cx="204.40" cy="60.66" r="1.15"/><circle cx="205.55" cy="60.57" r="1.15"/><circle cx="206.69" cy="60.48" r="1.15"/><circle cx="207.84" cy="60.40" r="1.15"/><circle cx="208.98" cy="60.32" r="1.15"/><circle cx="210.13" cy="60.24" r="1.15"/><circle cx="211.28" cy="60.17" r="1.15"/><circle cx="212.42" cy="60.09" r="1.15"/><circle cx="213.57" cy="60.02" r="1.15"/><circle cx="214.71" cy="59.95" r="1.15"/><circle cx="215.86" cy="59.89" r="1.15"/><circle cx="217.01" cy="59.83" r="1.15"/><circle cx="218.15" cy="59.77" r="1.15"/><circle cx="219.30" cy="59.71" r="1.15"/><circle cx="220.44" cy="59.66" r="1.15"/><circle cx="221.59" cy="59.61" r="1.15"/><circle cx="222.74" cy="59.56" r="1.15"/><circle cx="223.88" cy="59.52" r="1.15"/><circle cx="225.03" cy="59.48" r="1.15"/><circle cx="226.17" cy="59.44" r="1.15"/><circle cx="227.32" cy="59.41" r="1.15"/><circle cx="228.47" cy="59.38" r="1.15"/><circle cx="229.61" cy="59.36" r="1.15"/><circle cx="230.76" cy="59.34" r="1.15"/><circle cx="231.90" cy="59.32" r="1.15"/><circle cx="233.05" cy="59.31" r="1.15"/><circle cx="234.20" cy="59.30" r="1.15"/><circle cx="235.34" cy="59.29" r="1.15"/><circle cx="236.49" cy="59.28" r="1.15"/><circle cx="237.63" cy="59.28" r="1.15"/><circle cx="238.78" cy="59.28" r="1.15"/><circle cx="239.93" cy="59.28" r="1.15"/><circle cx="241.07" cy="59.28" r="1.15"/><circle cx="242.22" cy="59.29" r="1.15"/><circle cx="243.37" cy="59.30" r="1.15"/><circle cx="244.51" cy="59.31" r="1.15"/><circle cx="245.66" cy="59.32" r="1.15"/><circle cx="246.80" cy="59.33" r="1.15"/><circle cx="247.95" cy="59.35" r="1.15"/><circle cx="249.10" cy="59.37" r="1.15"/><circle cx="250.24" cy="59.39" r="1.15"/><circle cx="251.39" cy="59.42" r="1.15"/><circle cx="252.53" cy="59.44" r="1.15"/><circle cx="253.68" cy="59.47" r="1.15"/><circle cx="254.83" cy="59.50" r="1.15"/><circle cx="255.97" cy="59.53" r="1.15"/><circle cx="257.12" cy="59.56" r="1.15"/><circle cx="258.26" cy="59.59" r="1.15"/><circle cx="259.41" cy="59.63" r="1.15"/><circle cx="260.56" cy="59.66" r="1.15"/><circle cx="261.70" cy="59.70" r="1.15"/><circle cx="262.85" cy="59.75" r="1.15"/><circle cx="263.99" cy="59.79" r="1.15"/><circle cx="265.14" cy="59.83" r="1.15"/><circle cx="266.29" cy="59.88" r="1.15"/><circle cx="267.43" cy="59.93" r="1.15"/><circle cx="268.58" cy="59.98" r="1.15"/><circle cx="269.72" cy="60.03" r="1.15"/><circle cx="270.87" cy="60.09" r="1.15"/><circle cx="272.02" cy="60.14" r="1.15"/><circle cx="273.16" cy="60.20" r="1.15"/><circle cx="274.31" cy="60.26" r="1.15"/><circle cx="275.45" cy="60.32" r="1.15"/><circle cx="276.60" cy="60.39" r="1.15"/><circle cx="277.75" cy="60.46" r="1.15"/><circle cx="278.89" cy="60.52" r="1.15"/><circle cx="280.04" cy="60.60" r="1.15"/><circle cx="281.18" cy="60.67" r="1.15"/><circle cx="282.33" cy="60.74" r="1.15"/><circle cx="283.48" cy="60.82" r="1.15"/><circle cx="284.62" cy="60.90" r="1.15"/><circle cx="285.77" cy="60.98" r="1.15"/><circle cx="286.91" cy="61.07" r="1.15"/><circle cx="288.06" cy="61.16" r="1.15"/><circle cx="289.21" cy="61.25" r="1.15"/><circle cx="290.35" cy="61.34" r="1.15"/><circle cx="291.50" cy="61.43" r="1.15"/><circle cx="292.64" cy="61.53" r="1.15"/><circle cx="293.79" cy="61.63" r="1.15"/><circle cx="294.94" cy="61.73" r="1.15"/><circle cx="296.08" cy="61.84" r="1.15"/><circle cx="297.23" cy="61.94" r="1.15"/><circle cx="298.37" cy="62.05" r="1.15"/><circle cx="299.52" cy="62.17" r="1.15"/><circle cx="300.67" cy="62.28" r="1.15"/><circle cx="301.81" cy="62.40" r="1.15"/><circle cx="302.96" cy="62.52" r="1.15"/><circle cx="304.10" cy="62.65" r="1.15"/><circle cx="305.25" cy="62.77" r="1.15"/><circle cx="306.40" cy="62.90" r="1.15"/><circle cx="307.54" cy="63.03" r="1.15"/><circle cx="308.69" cy="63.16" r="1.15"/><circle cx="309.83" cy="63.30" r="1.15"/><circle cx="310.98" cy="63.44" r="1.15"/><circle cx="312.13" cy="63.58" r="1.15"/><circle cx="313.27" cy="63.72" r="1.15"/><circle cx="314.42" cy="63.87" r="1.15"/><circle cx="315.57" cy="64.01" r="1.15"/><circle cx="316.71" cy="64.17" r="1.15"/><circle cx="317.86" cy="64.32" r="1.15"/><circle cx="319.00" cy="64.48" r="1.15"/><circle cx="320.15" cy="64.64" r="1.15"/><circle cx="321.30" cy="64.80" r="1.15"/><circle cx="322.44" cy="64.96" r="1.15"/><circle cx="323.59" cy="65.13" r="1.15"/><circle cx="324.73" cy="65.30" r="1.15"/><circle cx="325.88" cy="65.48" r="1.15"/><circle cx="327.03" cy="65.65" r="1.15"/><circle cx="328.17" cy="65.83" r="1.15"/><circle cx="329.32" cy="66.02" r="1.15"/><circle cx="330.46" cy="66.20" r="1.15"/><circle cx="331.61" cy="66.39" r="1.15"/><circle cx="332.76" cy="66.59" r="1.15"/><circle cx="333.90" cy="66.78" r="1.15"/><circle cx="335.05" cy="66.98" r="1.15"/><circle cx="336.19" cy="67.18" r="1.15"/><circle cx="337.34" cy="67.39" r="1.15"/><circle cx="338.49" cy="67.60" r="1.15"/><circle cx="339.63" cy="67.81" r="1.15"/><circle cx="340.78" cy="68.03" r="1.15"/><circle cx="341.92" cy="68.25" r="1.15"/><circle cx="343.07" cy="68.47" r="1.15"/><circle cx="344.22" cy="68.70" r="1.15"/><circle cx="345.36" cy="68.93" r="1.15"/><circle cx="346.51" cy="69.16" r="1.15"/><circle cx="347.65" cy="69.40" r="1.15"/><circle cx="348.80" cy="69.65" r="1.15"/><circle cx="349.95" cy="69.89" r="1.15"/><circle cx="351.09" cy="70.15" r="1.15"/><circle cx="352.24" cy="70.41" r="1.15"/><circle cx="353.38" cy="70.68" r="1.15"/><circle cx="354.53" cy="70.95" r="1.15"/><circle cx="355.68" cy="71.23" r="1.15"/><circle cx="356.82" cy="71.51" r="1.15"/><circle cx="357.97" cy="71.80" r="1.15"/><circle cx="359.11" cy="72.09" r="1.15"/><circle cx="360.26" cy="72.39" r="1.15"/><circle cx="361.41" cy="72.70" r="1.15"/><circle cx="362.55" cy="73.01" r="1.15"/><circle cx="363.70" cy="73.33" r="1.15"/><circle cx="364.84" cy="73.65" r="1.15"/><circle cx="365.99" cy="73.97" r="1.15"/><circle cx="367.14" cy="74.31" r="1.15"/><circle cx="368.28" cy="74.64" r="1.15"/><circle cx="369.43" cy="74.99" r="1.15"/><circle cx="370.57" cy="75.33" r="1.15"/><circle cx="371.72" cy="75.68" r="1.15"/><circle cx="372.87" cy="76.04" r="1.15"/><circle cx="374.01" cy="76.41" r="1.15"/><circle cx="375.16" cy="76.78" r="1.15"/><circle cx="376.30" cy="77.15" r="1.15"/><circle cx="377.45" cy="77.54" r="1.15"/><circle cx="378.60" cy="77.93" r="1.15"/><circle cx="379.74" cy="78.33" r="1.15"/><circle cx="380.89" cy="78.73" r="1.15"/><circle cx="382.03" cy="79.15" r="1.15"/><circle cx="383.18" cy="79.57" r="1.15"/><circle cx="384.33" cy="80.00" r="1.15"/><circle cx="385.47" cy="80.44" r="1.15"/><circle cx="386.62" cy="80.90" r="1.15"/><circle cx="387.77" cy="81.38" r="1.15"/><circle cx="388.91" cy="81.87" r="1.15"/><circle cx="390.06" cy="82.37" r="1.15"/><circle cx="391.20" cy="82.88" r="1.15"/><circle cx="392.35" cy="83.39" r="1.15"/><circle cx="393.50" cy="83.91" r="1.15"/><circle cx="394.64" cy="84.42" r="1.15"/><circle cx="395.79" cy="84.93" r="1.15"/><circle cx="396.93" cy="85.46" r="1.15"/><circle cx="398.08" cy="85.99" r="1.15"/><circle cx="399.23" cy="86.53" r="1.15"/><circle cx="400.37" cy="87.08" r="1.15"/><circle cx="401.52" cy="87.62" r="1.15"/><circle cx="402.66" cy="88.16" r="1.15"/><circle cx="403.81" cy="88.69" r="1.15"/><circle cx="404.96" cy="89.22" r="1.15"/><circle cx="406.10" cy="89.75" r="1.15"/><circle cx="407.25" cy="90.28" r="1.15"/><circle cx="408.39" cy="90.82" r="1.15"/><circle cx="409.54" cy="91.37" r="1.15"/><circle cx="410.69" cy="91.93" r="1.15"/><circle cx="411.83" cy="92.50" r="1.15"/><circle cx="412.98" cy="93.08" r="1.15"/><circle cx="414.12" cy="93.67" r="1.15"/><circle cx="415.27" cy="94.26" r="1.15"/><circle cx="416.42" cy="94.87" r="1.15"/><circle cx="417.56" cy="95.48" r="1.15"/><circle cx="418.71" cy="96.10" r="1.15"/><circle cx="419.85" cy="96.74" r="1.15"/><circle cx="421.00" cy="97.38" r="1.15"/>
</g>
<g stroke="#000" stroke-width="1" fill="none" shape-rendering="auto">
<rect x="65.50" y="8.90" width="386.00" height="272.60"/>
<path d="M65.50 261.80h3.80 M451.50 261.80h-3.80 M65.50 222.90h3.80 M451.50 222.90h-3.80 M65.50 184.00h3.80 M451.50 184.00h-3.80 M65.50 145.10h3.80 M451.50 145.10h-3.80 M65.50 106.20h3.80 M451.50 106.20h-3.80 M65.50 67.30h3.80 M451.50 67.30h-3.80 M65.50 28.40h3.80 M451.50 28.40h-3.80 M73.40 281.50v-3.80 M73.40 8.90v3.80 M247.20 281.50v-3.80 M247.20 8.90v3.80 M421.00 281.50v-3.80 M421.00 8.90v3.80"/>
<path stroke-opacity="0.8" d="M65.50 277.36h1.80 M451.50 277.36h-1.80 M65.50 273.47h1.80 M451.50 273.47h-1.80 M65.50 269.58h1.80 M451.50 269.58h-1.80 M65.50 265.69h1.80 M451.50 265.69h-1.80 M65.50 257.91h1.80 M451.50 257.91h-1.80 M65.50 254.02h1.80 M451.50 254.02h-1.80 M65.50 250.13h1.80 M451.50 250.13h-1.80 M65.50 246.24h1.80 M451.50 246.24h-1.80 M65.50 242.35h1.80 M451.50 242.35h-1.80 M65.50 238.46h1.80 M451.50 238.46h-1.80 M65.50 234.57h1.80 M451.50 234.57h-1.80 M65.50 230.68h1.80 M451.50 230.68h-1.80 M65.50 226.79h1.80 M451.50 226.79h-1.80 M65.50 219.01h1.80 M451.50 219.01h-1.80 M65.50 215.12h1.80 M451.50 215.12h-1.80 M65.50 211.23h1.80 M451.50 211.23h-1.80 M65.50 207.34h1.80 M451.50 207.34h-1.80 M65.50 203.45h1.80 M451.50 203.45h-1.80 M65.50 199.56h1.80 M451.50 199.56h-1.80 M65.50 195.67h1.80 M451.50 195.67h-1.80 M65.50 191.78h1.80 M451.50 191.78h-1.80 M65.50 187.89h1.80 M451.50 187.89h-1.80 M65.50 180.11h1.80 M451.50 180.11h-1.80 M65.50 176.22h1.80 M451.50 176.22h-1.80 M65.50 172.33h1.80 M451.50 172.33h-1.80 M65.50 168.44h1.80 M451.50 168.44h-1.80 M65.50 164.55h1.80 M451.50 164.55h-1.80 M65.50 160.66h1.80 M451.50 160.66h-1.80 M65.50 156.77h1.80 M451.50 156.77h-1.80 M65.50 152.88h1.80 M451.50 152.88h-1.80 M65.50 148.99h1.80 M451.50 148.99h-1.80 M65.50 141.21h1.80 M451.50 141.21h-1.80 M65.50 137.32h1.80 M451.50 137.32h-1.80 M65.50 133.43h1.80 M451.50 133.43h-1.80 M65.50 129.54h1.80 M451.50 129.54h-1.80 M65.50 125.65h1.80 M451.50 125.65h-1.80 M65.50 121.76h1.80 M451.50 121.76h-1.80 M65.50 117.87h1.80 M451.50 117.87h-1.80 M65.50 113.98h1.80 M451.50 113.98h-1.80 M65.50 110.09h1.80 M451.50 110.09h-1.80 M65.50 102.31h1.80 M451.50 102.31h-1.80 M65.50 98.42h1.80 M451.50 98.42h-1.80 M65.50 94.53h1.80 M451.50 94.53h-1.80 M65.50 90.64h1.80 M451.50 90.64h-1.80 M65.50 86.75h1.80 M451.50 86.75h-1.80 M65.50 82.86h1.80 M451.50 82.86h-1.80 M65.50 78.97h1.80 M451.50 78.97h-1.80 M65.50 75.08h1.80 M451.50 75.08h-1.80 M65.50 71.19h1.80 M451.50 71.19h-1.80 M65.50 63.41h1.80 M451.50 63.41h-1.80 M65.50 59.52h1.80 M451.50 59.52h-1.80 M65.50 55.63h1.80 M451.50 55.63h-1.80 M65.50 51.74h1.80 M451.50 51.74h-1.80 M65.50 47.85h1.80 M451.50 47.85h-1.80 M65.50 43.96h1.80 M451.50 43.96h-1.80 M65.50 40.07h1.80 M451.50 40.07h-1.80 M65.50 36.18h1.80 M451.50 36.18h-1.80 M65.50 32.29h1.80 M451.50 32.29h-1.80 M65.50 24.51h1.80 M451.50 24.51h-1.80 M65.50 20.62h1.80 M451.50 20.62h-1.80 M65.50 16.73h1.80 M451.50 16.73h-1.80 M65.50 12.84h1.80 M451.50 12.84h-1.80 M125.72 281.50v-1.80 M125.72 8.90v1.80 M156.32 281.50v-1.80 M156.32 8.90v1.80 M178.04 281.50v-1.80 M178.04 8.90v1.80 M194.88 281.50v-1.80 M194.88 8.90v1.80 M208.64 281.50v-1.80 M208.64 8.90v1.80 M220.28 281.50v-1.80 M220.28 8.90v1.80 M230.36 281.50v-1.80 M230.36 8.90v1.80 M239.25 281.50v-1.80 M239.25 8.90v1.80 M299.52 281.50v-1.80 M299.52 8.90v1.80 M330.12 281.50v-1.80 M330.12 8.90v1.80 M351.84 281.50v-1.80 M351.84 8.90v1.80 M368.68 281.50v-1.80 M368.68 8.90v1.80 M382.44 281.50v-1.80 M382.44 8.90v1.80 M394.08 281.50v-1.80 M394.08 8.90v1.80 M404.16 281.50v-1.80 M404.16 8.90v1.80 M413.05 281.50v-1.80 M413.05 8.90v1.80"/>
</g>
<g font-family="'Liberation Sans', sans-serif" fill="#000" stroke="#000" stroke-width="0.3" style="filter:grayscale(1)">
<text x="59.6" y="32.75" font-size="13" text-anchor="end">0</text>
<text x="59.6" y="71.65" font-size="13" text-anchor="end"><tspan dy="1.0">−</tspan><tspan dy="-1.0">2</tspan></text>
<text x="59.6" y="110.55" font-size="13" text-anchor="end"><tspan dy="1.0">−</tspan><tspan dy="-1.0">4</tspan></text>
<text x="59.6" y="149.45" font-size="13" text-anchor="end"><tspan dy="1.0">−</tspan><tspan dy="-1.0">6</tspan></text>
<text x="59.6" y="188.35" font-size="13" text-anchor="end"><tspan dy="1.0">−</tspan><tspan dy="-1.0">8</tspan></text>
<text x="59.6" y="227.25" font-size="13" text-anchor="end"><tspan dy="1.0">−</tspan><tspan dy="-1.0">10</tspan></text>
<text x="59.6" y="266.15" font-size="13" text-anchor="end"><tspan dy="1.0">−</tspan><tspan dy="-1.0">12</tspan></text>
<text x="61.90" y="296.1" font-size="13">10</text>
<text x="76.60" y="289.5" font-size="10">13</text>
<text x="235.70" y="296.1" font-size="13">10</text>
<text x="250.40" y="289.5" font-size="10">14</text>
<text x="409.50" y="296.1" font-size="13">10</text>
<text x="424.20" y="289.5" font-size="10">15</text>
<text x="224.3" y="312.9" font-size="15.6">m<tspan font-size="12" dy="4.1">M</tspan><tspan dy="-4.1"> (GeV)</tspan></text>
<g transform="translate(34,194) rotate(-90)"><text x="0.47" y="-0.10" font-size="14.6">Δ</text><text x="9.43" y="-0.10" font-size="14.6">m</text><text x="21.37" y="3.50" font-size="10.5">h</text><text x="21.75" y="-8.40" font-size="11.3">mDR</text><path d="M34 -18.4H48.6" stroke="#000" stroke-width="0.9" fill="none"/><text x="56.99" y="-0.10" font-size="14.6">(GeV)</text></g>
<text x="160.18" y="148.90" font-size="11.3">A</text>
<text x="168.10" y="151.60" font-size="8.3">ν</text>
<text x="175.65" y="148.90" font-size="11.3">=</text>
<text x="184.95" y="148.90" font-size="11.3">m</text>
<text x="194.76" y="153.10" font-size="7.8">L</text>
<path d="M195.80 143.90q0.95 -1.00 1.90 0t1.90 0" stroke="#000" stroke-width="0.7" fill="none"/>
<text x="203.45" y="148.90" font-size="11.3">=</text>
<text x="212.95" y="148.90" font-size="11.3">m</text>
<text x="222.66" y="153.10" font-size="7.8">R</text>
<path d="M224.20 144.20q1.15 -1.00 2.30 0t2.30 0" stroke="#000" stroke-width="0.7" fill="none"/>
<text x="232.95" y="148.90" font-size="11.3">=</text>
<text x="243.64" y="148.90" font-size="11.3">10</text>
<text x="256.66" y="143.60" font-size="9.0">3</text>
<text x="265.43" y="148.90" font-size="11.3">GeV</text>
<text x="156.23" y="167.60" font-size="11.3">tan</text>
<text x="171.22" y="167.60" font-size="11.3">β</text>
<text x="177.85" y="167.60" font-size="11.3">=</text>
<text x="188.95" y="167.60" font-size="11.3">5</text>
<text x="194.98" y="167.60" font-size="11.3">,</text>
<text x="202.07" y="167.60" font-size="11.3">M</text>
<text x="211.98" y="170.90" font-size="8.3">A</text>
<text x="218.45" y="167.60" font-size="11.3">=</text>
<text x="224.83" y="167.60" font-size="11.3">200</text>
<text x="248.43" y="167.60" font-size="11.3">GeV</text>
<text x="155.64" y="186.30" font-size="11.3">μ</text>
<text x="161.35" y="186.30" font-size="11.3">=</text>
<text x="168.73" y="186.30" font-size="11.3">200</text>
<text x="191.93" y="186.30" font-size="11.3">GeV</text>
<text x="214.88" y="186.30" font-size="11.3">,</text>
<text x="222.89" y="186.30" font-size="11.3">|</text>
<text x="225.25" y="186.30" font-size="11.3">m</text>
<text x="235.30" y="189.00" font-size="8.3">ν</text>
<text x="239.59" y="186.30" font-size="11.3">|</text>
<text x="242.05" y="186.30" font-size="11.3">=</text>
<text x="253.46" y="186.30" font-size="11.3">0.5</text>
<text x="272.72" y="186.30" font-size="11.3">eV</text>
<text x="324.17" y="139.70" font-size="11.3">B</text>
<text x="332.50" y="142.70" font-size="8.3">ν</text>
<text x="336.95" y="139.70" font-size="11.3">=</text>
<text x="343.84" y="139.70" font-size="11.3">10</text>
<text x="356.46" y="134.70" font-size="9.0">3</text>
<text x="368.43" y="139.70" font-size="11.3">GeV</text>
<text x="320.77" y="160.15" font-size="11.3">B</text>
<text x="329.00" y="163.15" font-size="8.3">ν</text>
<text x="336.95" y="160.15" font-size="11.3">=</text>
<text x="343.84" y="160.15" font-size="11.3">10</text>
<text x="356.34" y="155.15" font-size="9.0">6</text>
<text x="368.43" y="160.15" font-size="11.3">GeV</text>
<text x="324.17" y="180.60" font-size="11.3">B</text>
<text x="332.50" y="183.60" font-size="8.3">ν</text>
<text x="340.35" y="180.60" font-size="11.3">=</text>
<text x="346.94" y="180.60" font-size="11.3">10</text>
<text x="359.58" y="175.60" font-size="9.0">9</text>
<text x="371.63" y="180.60" font-size="11.3">GeV</text>
<text x="318.57" y="201.05" font-size="11.3">B</text>
<text x="326.80" y="204.05" font-size="8.3">ν</text>
<text x="334.65" y="201.05" font-size="11.3">=</text>
<text x="341.34" y="201.05" font-size="11.3">10</text>
<text x="354.81" y="196.05" font-size="9.0">12</text>
<text x="371.63" y="201.05" font-size="11.3">GeV</text>
<text x="307.57" y="221.50" font-size="11.3">B</text>
<text x="316.00" y="224.50" font-size="8.3">ν</text>
<text x="323.95" y="221.50" font-size="11.3">=</text>
<text x="330.43" y="221.50" font-size="11.3">2</text>
<text x="336.62" y="221.50" font-size="11.3">*</text>
<text x="341.04" y="221.50" font-size="11.3">10</text>
<text x="354.61" y="216.50" font-size="9.0">12</text>
<text x="371.23" y="221.50" font-size="11.3">GeV</text>
<text x="307.57" y="241.95" font-size="11.3">B</text>
<text x="316.00" y="244.95" font-size="8.3">ν</text>
<text x="323.95" y="241.95" font-size="11.3">=</text>
<text x="330.57" y="241.95" font-size="11.3">3</text>
<text x="336.62" y="241.95" font-size="11.3">*</text>
<text x="341.04" y="241.95" font-size="11.3">10</text>
<text x="354.61" y="236.95" font-size="9.0">12</text>
<text x="371.23" y="241.95" font-size="11.3">GeV</text>
<text x="307.57" y="262.40" font-size="11.3">B</text>
<text x="316.00" y="265.40" font-size="8.3">ν</text>
<text x="323.95" y="262.40" font-size="11.3">=</text>
<text x="330.74" y="262.40" font-size="11.3">4</text>
<text x="336.62" y="262.40" font-size="11.3">*</text>
<text x="341.04" y="262.40" font-size="11.3">10</text>
<text x="354.61" y="257.40" font-size="9.0">12</text>
<text x="371.23" y="262.40" font-size="11.3">GeV</text>
</g>
<circle cx="407.95" cy="135.90" r="3.10" fill="#ffff00"/>
<circle cx="407.95" cy="156.32" r="2.15" fill="#00ff00"/>
<circle cx="407.95" cy="176.74" r="1.75" fill="#ff00ff"/>
<circle cx="407.95" cy="197.16" r="1.15" fill="#ff0000"/>
<circle cx="407.95" cy="217.58" r="1.10" fill="#000000"/>
<circle cx="407.95" cy="238.00" r="0.95" fill="#0000ff"/>
<circle cx="407.95" cy="258.42" r="1.45" fill="#00ffff"/>
</svg>
</body></html>
